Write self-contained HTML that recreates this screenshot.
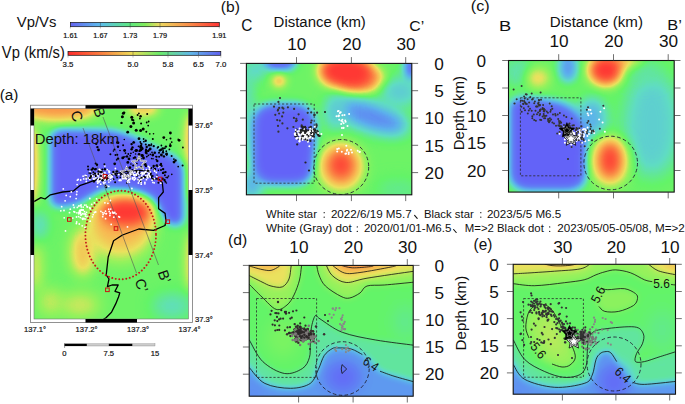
<!DOCTYPE html>
<html><head><meta charset="utf-8"><title>figure</title>
<style>html,body{margin:0;padding:0;background:#fff;width:685px;height:404px;overflow:hidden}svg{display:block}</style>
</head><body><svg width="685" height="404" viewBox="0 0 685 404" font-family='"Liberation Sans", sans-serif'><defs><filter id="g1" x="-100%" y="-100%" width="300%" height="300%" color-interpolation-filters="sRGB"><feGaussianBlur stdDeviation="1"/></filter><filter id="g2" x="-100%" y="-100%" width="300%" height="300%" color-interpolation-filters="sRGB"><feGaussianBlur stdDeviation="2"/></filter><filter id="g3" x="-100%" y="-100%" width="300%" height="300%" color-interpolation-filters="sRGB"><feGaussianBlur stdDeviation="3"/></filter><filter id="g4" x="-100%" y="-100%" width="300%" height="300%" color-interpolation-filters="sRGB"><feGaussianBlur stdDeviation="4"/></filter><filter id="g5" x="-100%" y="-100%" width="300%" height="300%" color-interpolation-filters="sRGB"><feGaussianBlur stdDeviation="5"/></filter><filter id="g6" x="-100%" y="-100%" width="300%" height="300%" color-interpolation-filters="sRGB"><feGaussianBlur stdDeviation="6"/></filter><filter id="g7" x="-100%" y="-100%" width="300%" height="300%" color-interpolation-filters="sRGB"><feGaussianBlur stdDeviation="7"/></filter><filter id="g8" x="-100%" y="-100%" width="300%" height="300%" color-interpolation-filters="sRGB"><feGaussianBlur stdDeviation="8"/></filter><filter id="g9" x="-100%" y="-100%" width="300%" height="300%" color-interpolation-filters="sRGB"><feGaussianBlur stdDeviation="9"/></filter><filter id="g10" x="-100%" y="-100%" width="300%" height="300%" color-interpolation-filters="sRGB"><feGaussianBlur stdDeviation="10"/></filter><filter id="g11" x="-100%" y="-100%" width="300%" height="300%" color-interpolation-filters="sRGB"><feGaussianBlur stdDeviation="11"/></filter><filter id="g12" x="-100%" y="-100%" width="300%" height="300%" color-interpolation-filters="sRGB"><feGaussianBlur stdDeviation="12"/></filter><filter id="g13" x="-100%" y="-100%" width="300%" height="300%" color-interpolation-filters="sRGB"><feGaussianBlur stdDeviation="13"/></filter><filter id="g14" x="-100%" y="-100%" width="300%" height="300%" color-interpolation-filters="sRGB"><feGaussianBlur stdDeviation="14"/></filter><filter id="g15" x="-100%" y="-100%" width="300%" height="300%" color-interpolation-filters="sRGB"><feGaussianBlur stdDeviation="15"/></filter><filter id="g16" x="-100%" y="-100%" width="300%" height="300%" color-interpolation-filters="sRGB"><feGaussianBlur stdDeviation="16"/></filter><filter id="g17" x="-100%" y="-100%" width="300%" height="300%" color-interpolation-filters="sRGB"><feGaussianBlur stdDeviation="17"/></filter><filter id="g18" x="-100%" y="-100%" width="300%" height="300%" color-interpolation-filters="sRGB"><feGaussianBlur stdDeviation="18"/></filter><filter id="g19" x="-100%" y="-100%" width="300%" height="300%" color-interpolation-filters="sRGB"><feGaussianBlur stdDeviation="19"/></filter><filter id="g20" x="-100%" y="-100%" width="300%" height="300%" color-interpolation-filters="sRGB"><feGaussianBlur stdDeviation="20"/></filter><filter id="cm1" x="0" y="0" width="685" height="404" filterUnits="userSpaceOnUse" color-interpolation-filters="sRGB"><feComponentTransfer><feFuncR type="table" tableValues="0.392 0.376 0.361 0.376 0.392 0.588 0.918 0.973 0.980 0.992 1.000"/><feFuncG type="table" tableValues="0.392 0.510 0.698 0.863 0.957 0.949 0.886 0.722 0.549 0.376 0.220"/><feFuncB type="table" tableValues="0.973 0.957 0.925 0.769 0.408 0.361 0.369 0.322 0.275 0.235 0.204"/></feComponentTransfer></filter>
<linearGradient id="cb1" x1="0" x2="1" y1="0" y2="0">
 <stop offset="0" stop-color="#6464f0"/><stop offset="0.2" stop-color="#5cbcec"/><stop offset="0.4" stop-color="#5ce880"/>
 <stop offset="0.5" stop-color="#80ec5c"/><stop offset="0.6" stop-color="#ecd860"/><stop offset="0.8" stop-color="#fa8c48"/><stop offset="1" stop-color="#ff3434"/>
</linearGradient>
<linearGradient id="cb2" x1="0" x2="1" y1="0" y2="0">
 <stop offset="0" stop-color="#ff2c2c"/><stop offset="0.22" stop-color="#fb8040"/><stop offset="0.42" stop-color="#eedc58"/>
 <stop offset="0.6" stop-color="#6aec6a"/><stop offset="0.8" stop-color="#60b8e8"/><stop offset="1" stop-color="#6060f0"/>
</linearGradient>
<clipPath id="ca"><rect x="34" y="108.5" width="154.5" height="210.5"/></clipPath>
<clipPath id="cbp"><rect x="246.4" y="63.4" width="165.4" height="131.4"/></clipPath>
<clipPath id="ccp"><rect x="508.5" y="60.5" width="165.7" height="131.6"/></clipPath>
<clipPath id="cdp"><rect x="249.2" y="265.4" width="164" height="130.8"/></clipPath>
<clipPath id="cep"><rect x="513.2" y="264.3" width="162.3" height="130"/></clipPath>
</defs><rect width="685" height="404" fill="#fff"/><text x="16.85" y="27.40" font-size="15.14" textLength="39.51" lengthAdjust="spacingAndGlyphs" fill="#111">Vp/Vs</text><rect x="70.4" y="22.4" width="148.9" height="4.3" fill="url(#cb1)" stroke="#111" stroke-width="0.7"/><line x1="100.4" y1="22.4" x2="100.4" y2="26.7" stroke="#333" stroke-width="0.4"/><line x1="100.4" y1="26.7" x2="100.4" y2="28.5" stroke="#666" stroke-width="0.4"/><line x1="130.2" y1="22.4" x2="130.2" y2="26.7" stroke="#333" stroke-width="0.4"/><line x1="130.2" y1="26.7" x2="130.2" y2="28.5" stroke="#666" stroke-width="0.4"/><line x1="160" y1="22.4" x2="160" y2="26.7" stroke="#333" stroke-width="0.4"/><line x1="160" y1="26.7" x2="160" y2="28.5" stroke="#666" stroke-width="0.4"/><text x="70.4" y="38.4" font-size="7.3" text-anchor="middle" fill="#111" stroke="#111" stroke-width="0.2">1.61</text><text x="100.4" y="38.4" font-size="7.3" text-anchor="middle" fill="#111" stroke="#111" stroke-width="0.2">1.67</text><text x="130.2" y="38.4" font-size="7.3" text-anchor="middle" fill="#111" stroke="#111" stroke-width="0.2">1.73</text><text x="160" y="38.4" font-size="7.3" text-anchor="middle" fill="#111" stroke="#111" stroke-width="0.2">1.79</text><text x="219.3" y="38.4" font-size="7.3" text-anchor="middle" fill="#111" stroke="#111" stroke-width="0.2">1.91</text><text x="1.85" y="57.70" font-size="15.57" textLength="63.00" lengthAdjust="spacingAndGlyphs" fill="#111">Vp (km/s)</text><rect x="68" y="51.5" width="152.8" height="3.8" fill="url(#cb2)" stroke="#111" stroke-width="0.7"/><line x1="133" y1="51.5" x2="133" y2="55.3" stroke="#333" stroke-width="0.4"/><line x1="168" y1="51.5" x2="168" y2="55.3" stroke="#333" stroke-width="0.4"/><line x1="198.5" y1="51.5" x2="198.5" y2="55.3" stroke="#333" stroke-width="0.4"/><text x="68" y="67.2" font-size="7.8" text-anchor="middle" fill="#111" stroke="#111" stroke-width="0.2">3.5</text><line x1="68" y1="55.3" x2="68" y2="57.6" stroke="#666" stroke-width="0.4"/><text x="133" y="67.2" font-size="7.8" text-anchor="middle" fill="#111" stroke="#111" stroke-width="0.2">5.0</text><line x1="133" y1="55.3" x2="133" y2="57.6" stroke="#666" stroke-width="0.4"/><text x="168" y="67.2" font-size="7.8" text-anchor="middle" fill="#111" stroke="#111" stroke-width="0.2">5.8</text><line x1="168" y1="55.3" x2="168" y2="57.6" stroke="#666" stroke-width="0.4"/><text x="198.5" y="67.2" font-size="7.8" text-anchor="middle" fill="#111" stroke="#111" stroke-width="0.2">6.5</text><line x1="198.5" y1="55.3" x2="198.5" y2="57.6" stroke="#666" stroke-width="0.4"/><text x="220.8" y="67.2" font-size="7.8" text-anchor="middle" fill="#111" stroke="#111" stroke-width="0.2">7.0</text><line x1="220.8" y1="55.3" x2="220.8" y2="57.6" stroke="#666" stroke-width="0.4"/><line x1="70.4" y1="26.7" x2="70.4" y2="28.5" stroke="#666" stroke-width="0.4"/><line x1="219.3" y1="26.7" x2="219.3" y2="28.5" stroke="#666" stroke-width="0.4"/><text x="-0.32" y="99.67" font-size="14.89" textLength="18.77" lengthAdjust="spacingAndGlyphs" fill="#111">(a)</text><text x="220.76" y="11.77" font-size="14.89" textLength="19.11" lengthAdjust="spacingAndGlyphs" fill="#111">(b)</text><text x="470.72" y="11.47" font-size="14.89" textLength="18.95" lengthAdjust="spacingAndGlyphs" fill="#111">(c)</text><text x="227.96" y="244.71" font-size="15.21" textLength="19.22" lengthAdjust="spacingAndGlyphs" fill="#111">(d)</text><text x="473.58" y="249.70" font-size="16.17" textLength="18.77" lengthAdjust="spacingAndGlyphs" fill="#111">(e)</text><g clip-path="url(#ca)"><g filter="url(#cm1)"><rect x="25" y="95" width="175" height="235" fill="rgb(107,107,107)"/><ellipse cx="58" cy="108" rx="40" ry="12" fill="rgb(199,199,199)" filter="url(#g6)"/><ellipse cx="143" cy="109" rx="16" ry="7" fill="rgb(173,173,173)" filter="url(#g5)"/><ellipse cx="33" cy="165" rx="5" ry="40" fill="rgb(184,184,184)" filter="url(#g4)"/><ellipse cx="191" cy="140" rx="6" ry="28" fill="rgb(184,184,184)" filter="url(#g5)"/><ellipse cx="191" cy="180" rx="5" ry="20" fill="rgb(158,158,158)" filter="url(#g4)"/><ellipse cx="191" cy="262" rx="6" ry="30" fill="rgb(163,163,163)" filter="url(#g5)"/><ellipse cx="83" cy="252" rx="12" ry="24" fill="rgb(173,173,173)" filter="url(#g7)"/><ellipse cx="36" cy="268" rx="6" ry="24" fill="rgb(153,153,153)" filter="url(#g6)"/><ellipse cx="50" cy="302" rx="12" ry="14" fill="rgb(143,143,143)" filter="url(#g7)"/><ellipse cx="80" cy="305" rx="20" ry="12" fill="rgb(148,148,148)" filter="url(#g8)"/><ellipse cx="172" cy="306" rx="20" ry="12" fill="rgb(76,76,76)" filter="url(#g8)"/><ellipse cx="40" cy="225" rx="8" ry="14" fill="rgb(76,76,76)" filter="url(#g6)"/><path d="M51,140 Q51,130 63,130 L112,131 Q135,136 152,147 Q172,155 180,162 Q183,166 183,174 L183,220 Q180,227 171,224 Q162,219 158,205 Q150,192 130,190 L106,188 Q92,194 82,201 Q70,207 57,206 Q51,205 51,198 Z" fill="rgb(0,0,0)" filter="url(#g4)"/><ellipse cx="120" cy="236" rx="30" ry="24" fill="rgb(163,163,163)" filter="url(#g9)"/><ellipse cx="122" cy="220" rx="32" ry="22" fill="rgb(184,184,184)" filter="url(#g8)"/><ellipse cx="126" cy="212" rx="24" ry="13" fill="rgb(255,255,255)" filter="url(#g6)"/></g></g><g clip-path="url(#ca)"><polyline points="34,201.6 40.9,197.6 45,199 50.4,194.8 62.7,192 73.6,190.8 80.4,185.3 88.5,182.6 95.3,179.9 104.9,176.3 114.4,174.4 125.3,171.7 138.9,170.3 149.8,171.5 152,178.5 158.6,179 162.3,182.7 163.3,192 158.6,197.6 158.6,208.7 165.1,213.4 166,220.8 165,225.5 153.6,230.4 138.8,229 122.5,235 113.6,240.8 108.2,257 106.2,275 109,279 107.4,286.7 112,285 118.2,285 115,291.3 119.8,292.9 118.5,297 115.7,303.9 111.5,312.2 106,317.7 103.2,319.5" fill="none" stroke="#000" stroke-width="1.3" stroke-linejoin="round"/><line x1="83" y1="128" x2="136.5" y2="273" stroke="#555" stroke-width="0.6"/><line x1="103" y1="117" x2="158.5" y2="265" stroke="#555" stroke-width="0.6"/><ellipse cx="120.7" cy="235" rx="35.3" ry="44.3" fill="none" stroke="#c41a1a" stroke-width="1.9" stroke-dasharray="0.01 3.55" stroke-linecap="round"/></g><g clip-path="url(#ca)"><circle cx="116.0" cy="171.4" r="0.9" fill="#fff"/><circle cx="86.3" cy="177.7" r="0.9" fill="#fff"/><circle cx="77.1" cy="184.6" r="0.9" fill="#fff"/><circle cx="105.8" cy="175.4" r="0.9" fill="#fff"/><circle cx="104.7" cy="176.0" r="0.9" fill="#fff"/><circle cx="110.6" cy="180.6" r="0.9" fill="#fff"/><circle cx="97.3" cy="181.7" r="0.9" fill="#fff"/><circle cx="98.5" cy="176.1" r="0.9" fill="#fff"/><circle cx="99.8" cy="173.8" r="0.9" fill="#fff"/><circle cx="93.3" cy="178.5" r="0.9" fill="#fff"/><circle cx="99.3" cy="170.4" r="0.9" fill="#fff"/><circle cx="99.1" cy="178.8" r="0.9" fill="#fff"/><circle cx="97.5" cy="180.9" r="0.9" fill="#fff"/><circle cx="104.1" cy="178.1" r="0.9" fill="#fff"/><circle cx="101.0" cy="170.8" r="0.9" fill="#fff"/><circle cx="122.1" cy="175.4" r="0.9" fill="#fff"/><circle cx="105.5" cy="174.3" r="0.9" fill="#fff"/><circle cx="103.7" cy="179.9" r="0.9" fill="#fff"/><circle cx="90.5" cy="178.1" r="0.9" fill="#fff"/><circle cx="92.7" cy="176.0" r="0.9" fill="#fff"/><circle cx="103.9" cy="174.4" r="0.9" fill="#fff"/><circle cx="83.7" cy="178.9" r="0.9" fill="#fff"/><circle cx="102.4" cy="173.9" r="0.9" fill="#fff"/><circle cx="100.7" cy="184.2" r="0.9" fill="#fff"/><circle cx="104.2" cy="177.1" r="0.9" fill="#fff"/><circle cx="90.3" cy="176.0" r="0.9" fill="#fff"/><circle cx="101.3" cy="178.1" r="0.9" fill="#fff"/><circle cx="103.9" cy="183.6" r="0.9" fill="#fff"/><circle cx="78.2" cy="179.4" r="0.9" fill="#fff"/><circle cx="104.9" cy="166.1" r="0.9" fill="#fff"/><circle cx="105.0" cy="177.6" r="0.9" fill="#fff"/><circle cx="108.5" cy="177.4" r="0.9" fill="#fff"/><circle cx="98.6" cy="178.1" r="0.9" fill="#fff"/><circle cx="96.6" cy="176.5" r="0.9" fill="#fff"/><circle cx="97.7" cy="179.8" r="0.9" fill="#fff"/><circle cx="102.7" cy="173.1" r="0.9" fill="#fff"/><circle cx="99.8" cy="178.2" r="0.9" fill="#fff"/><circle cx="89.8" cy="179.4" r="0.9" fill="#fff"/><circle cx="92.0" cy="169.1" r="0.9" fill="#fff"/><circle cx="102.2" cy="174.2" r="0.9" fill="#fff"/><circle cx="108.9" cy="182.1" r="0.9" fill="#fff"/><circle cx="102.3" cy="172.4" r="0.9" fill="#fff"/><circle cx="104.9" cy="172.6" r="0.9" fill="#fff"/><circle cx="99.1" cy="179.4" r="0.9" fill="#fff"/><circle cx="111.4" cy="177.6" r="0.9" fill="#fff"/><circle cx="113.9" cy="171.8" r="0.9" fill="#fff"/><circle cx="88.4" cy="178.2" r="0.9" fill="#fff"/><circle cx="113.2" cy="173.8" r="0.9" fill="#fff"/><circle cx="93.4" cy="174.5" r="0.9" fill="#fff"/><circle cx="95.1" cy="176.7" r="0.9" fill="#fff"/><circle cx="105.0" cy="182.5" r="0.9" fill="#fff"/><circle cx="110.1" cy="176.8" r="0.9" fill="#fff"/><circle cx="93.8" cy="179.0" r="0.9" fill="#fff"/><circle cx="86.2" cy="179.0" r="0.9" fill="#fff"/><circle cx="80.7" cy="180.0" r="0.9" fill="#fff"/><circle cx="103.9" cy="179.9" r="0.9" fill="#fff"/><circle cx="91.8" cy="176.4" r="0.9" fill="#fff"/><circle cx="108.9" cy="171.0" r="0.9" fill="#fff"/><circle cx="110.0" cy="174.7" r="0.9" fill="#fff"/><circle cx="110.3" cy="178.0" r="0.9" fill="#fff"/><circle cx="91.2" cy="175.6" r="0.9" fill="#fff"/><circle cx="97.7" cy="183.2" r="0.9" fill="#fff"/><circle cx="103.2" cy="176.0" r="0.9" fill="#fff"/><circle cx="96.2" cy="173.6" r="0.9" fill="#fff"/><circle cx="83.1" cy="176.2" r="0.9" fill="#fff"/><circle cx="111.1" cy="175.6" r="0.9" fill="#fff"/><circle cx="106.1" cy="185.5" r="0.9" fill="#fff"/><circle cx="103.3" cy="180.6" r="0.9" fill="#fff"/><circle cx="103.3" cy="173.9" r="0.9" fill="#fff"/><circle cx="97.4" cy="186.7" r="0.9" fill="#fff"/><circle cx="106.6" cy="175.8" r="0.9" fill="#fff"/><circle cx="94.9" cy="179.0" r="0.9" fill="#fff"/><circle cx="104.1" cy="179.2" r="0.9" fill="#fff"/><circle cx="103.2" cy="176.8" r="0.9" fill="#fff"/><circle cx="100.7" cy="179.7" r="0.9" fill="#fff"/><circle cx="108.6" cy="179.3" r="0.9" fill="#fff"/><circle cx="99.3" cy="169.4" r="0.9" fill="#fff"/><circle cx="90.0" cy="171.6" r="0.9" fill="#fff"/><circle cx="106.5" cy="177.1" r="0.9" fill="#fff"/><circle cx="102.9" cy="176.6" r="0.9" fill="#fff"/><circle cx="99.0" cy="181.6" r="0.9" fill="#fff"/><circle cx="98.9" cy="182.0" r="0.9" fill="#fff"/><circle cx="105.6" cy="177.9" r="0.9" fill="#fff"/><circle cx="104.3" cy="176.4" r="0.9" fill="#fff"/><circle cx="104.2" cy="175.6" r="0.9" fill="#fff"/><circle cx="112.0" cy="176.7" r="0.9" fill="#fff"/><circle cx="97.3" cy="175.2" r="0.9" fill="#fff"/><circle cx="112.7" cy="179.3" r="0.9" fill="#fff"/><circle cx="102.3" cy="179.3" r="0.9" fill="#fff"/><circle cx="107.2" cy="169.7" r="0.9" fill="#fff"/><circle cx="119.4" cy="180.1" r="0.9" fill="#fff"/><circle cx="92.3" cy="176.2" r="0.9" fill="#fff"/><circle cx="106.2" cy="179.5" r="0.9" fill="#fff"/><circle cx="106.5" cy="176.7" r="0.9" fill="#fff"/><circle cx="103.0" cy="178.6" r="0.9" fill="#fff"/><circle cx="105.2" cy="179.7" r="0.9" fill="#fff"/><circle cx="102.8" cy="176.2" r="0.9" fill="#fff"/><circle cx="106.8" cy="185.8" r="0.9" fill="#fff"/><circle cx="122.4" cy="176.8" r="0.9" fill="#fff"/><circle cx="100.2" cy="180.7" r="0.9" fill="#fff"/><circle cx="108.8" cy="175.6" r="0.9" fill="#fff"/><circle cx="98.0" cy="173.7" r="0.9" fill="#fff"/><circle cx="107.3" cy="177.5" r="0.9" fill="#fff"/><circle cx="99.8" cy="170.0" r="0.9" fill="#fff"/><circle cx="91.9" cy="175.1" r="0.9" fill="#fff"/><circle cx="91.6" cy="176.0" r="0.9" fill="#fff"/><circle cx="85.2" cy="175.4" r="0.9" fill="#fff"/><circle cx="103.3" cy="182.1" r="0.9" fill="#fff"/><circle cx="114.2" cy="173.8" r="0.9" fill="#fff"/><circle cx="108.8" cy="186.3" r="0.9" fill="#fff"/><circle cx="102.6" cy="175.0" r="0.9" fill="#fff"/><circle cx="99.5" cy="179.7" r="0.9" fill="#fff"/><circle cx="120.9" cy="180.6" r="0.9" fill="#fff"/><circle cx="86.3" cy="181.4" r="0.9" fill="#fff"/><circle cx="101.0" cy="177.4" r="0.9" fill="#fff"/><circle cx="109.7" cy="171.8" r="0.9" fill="#fff"/><circle cx="112.2" cy="176.7" r="0.9" fill="#fff"/><circle cx="86.5" cy="175.9" r="0.9" fill="#fff"/><circle cx="108.3" cy="179.7" r="0.9" fill="#fff"/><circle cx="95.8" cy="177.8" r="0.9" fill="#fff"/><circle cx="130.9" cy="173.7" r="0.9" fill="#fff"/><circle cx="128.3" cy="175.8" r="0.9" fill="#fff"/><circle cx="134.1" cy="179.9" r="0.9" fill="#fff"/><circle cx="115.4" cy="168.5" r="0.9" fill="#fff"/><circle cx="156.3" cy="172.5" r="0.9" fill="#fff"/><circle cx="142.2" cy="172.8" r="0.9" fill="#fff"/><circle cx="145.8" cy="175.5" r="0.9" fill="#fff"/><circle cx="146.4" cy="179.7" r="0.9" fill="#fff"/><circle cx="137.0" cy="171.9" r="0.9" fill="#fff"/><circle cx="133.0" cy="173.1" r="0.9" fill="#fff"/><circle cx="148.7" cy="175.0" r="0.9" fill="#fff"/><circle cx="125.8" cy="176.8" r="0.9" fill="#fff"/><circle cx="158.7" cy="166.7" r="0.9" fill="#fff"/><circle cx="127.4" cy="175.1" r="0.9" fill="#fff"/><circle cx="135.2" cy="174.8" r="0.9" fill="#fff"/><circle cx="120.7" cy="179.9" r="0.9" fill="#fff"/><circle cx="138.6" cy="174.4" r="0.9" fill="#fff"/><circle cx="144.0" cy="172.5" r="0.9" fill="#fff"/><circle cx="147.5" cy="175.5" r="0.9" fill="#fff"/><circle cx="140.8" cy="181.5" r="0.9" fill="#fff"/><circle cx="145.9" cy="172.8" r="0.9" fill="#fff"/><circle cx="148.6" cy="170.8" r="0.9" fill="#fff"/><circle cx="132.5" cy="178.9" r="0.9" fill="#fff"/><circle cx="127.9" cy="175.8" r="0.9" fill="#fff"/><circle cx="127.9" cy="180.7" r="0.9" fill="#fff"/><circle cx="147.4" cy="171.8" r="0.9" fill="#fff"/><circle cx="142.3" cy="178.5" r="0.9" fill="#fff"/><circle cx="128.5" cy="180.5" r="0.9" fill="#fff"/><circle cx="140.6" cy="177.4" r="0.9" fill="#fff"/><circle cx="134.5" cy="179.3" r="0.9" fill="#fff"/><circle cx="121.5" cy="122.9" r="1.2" fill="#000"/><circle cx="148.6" cy="121.5" r="0.9" fill="#000"/><circle cx="136.2" cy="130.2" r="1.5" fill="#000"/><circle cx="122.4" cy="116.7" r="1.5" fill="#000"/><circle cx="133.6" cy="123.0" r="1.5" fill="#000"/><circle cx="137.6" cy="115.0" r="1.0" fill="#000"/><circle cx="146.7" cy="122.5" r="0.9" fill="#000"/><circle cx="138.9" cy="113.3" r="0.9" fill="#000"/><circle cx="124.1" cy="112.6" r="1.2" fill="#000"/><circle cx="130.9" cy="126.4" r="1.5" fill="#000"/><circle cx="140.6" cy="130.4" r="1.5" fill="#000"/><circle cx="141.1" cy="123.5" r="1.0" fill="#000"/><circle cx="147.2" cy="113.9" r="1.0" fill="#000"/><circle cx="131.8" cy="117.2" r="1.5" fill="#000"/><circle cx="143.2" cy="129.1" r="1.5" fill="#000"/><circle cx="132.3" cy="119.7" r="1.2" fill="#000"/><circle cx="133.4" cy="120.2" r="1.0" fill="#000"/><circle cx="148.2" cy="125.6" r="0.9" fill="#000"/><circle cx="146.3" cy="131.8" r="1.0" fill="#000"/><circle cx="139.9" cy="118.5" r="0.9" fill="#000"/><circle cx="140.6" cy="116.2" r="1.2" fill="#000"/><circle cx="123.4" cy="113.3" r="1.5" fill="#000"/><circle cx="175.5" cy="160.5" r="1.2" fill="#000"/><circle cx="148.2" cy="150.9" r="1.2" fill="#000"/><circle cx="149.8" cy="133.9" r="0.8" fill="#000"/><circle cx="118.2" cy="142.7" r="1.2" fill="#000"/><circle cx="141.5" cy="144.1" r="1.0" fill="#000"/><circle cx="142.1" cy="155.4" r="1.4" fill="#000"/><circle cx="97.4" cy="147.1" r="1.2" fill="#000"/><circle cx="141.0" cy="158.8" r="0.8" fill="#000"/><circle cx="163.1" cy="151.0" r="1.0" fill="#000"/><circle cx="129.0" cy="158.9" r="1.4" fill="#000"/><circle cx="114.7" cy="163.8" r="1.4" fill="#000"/><circle cx="151.0" cy="145.4" r="0.9" fill="#000"/><circle cx="164.8" cy="148.2" r="1.0" fill="#000"/><circle cx="120.0" cy="150.5" r="0.8" fill="#000"/><circle cx="137.3" cy="160.0" r="1.4" fill="#000"/><circle cx="140.3" cy="149.7" r="1.0" fill="#000"/><circle cx="115.5" cy="154.9" r="1.0" fill="#000"/><circle cx="132.5" cy="147.4" r="1.2" fill="#000"/><circle cx="152.0" cy="152.4" r="0.8" fill="#000"/><circle cx="159.8" cy="150.4" r="1.2" fill="#000"/><circle cx="136.8" cy="163.6" r="0.9" fill="#000"/><circle cx="133.6" cy="157.9" r="1.0" fill="#000"/><circle cx="153.7" cy="146.1" r="1.2" fill="#000"/><circle cx="174.0" cy="162.1" r="1.4" fill="#000"/><circle cx="140.7" cy="147.6" r="1.4" fill="#000"/><circle cx="151.2" cy="168.0" r="0.9" fill="#000"/><circle cx="130.9" cy="164.0" r="0.8" fill="#000"/><circle cx="159.1" cy="156.7" r="1.0" fill="#000"/><circle cx="138.5" cy="146.3" r="0.9" fill="#000"/><circle cx="173.9" cy="159.1" r="0.9" fill="#000"/><circle cx="161.4" cy="145.5" r="0.9" fill="#000"/><circle cx="146.2" cy="149.7" r="0.9" fill="#000"/><circle cx="129.9" cy="167.7" r="1.4" fill="#000"/><circle cx="151.6" cy="158.6" r="0.8" fill="#000"/><circle cx="151.4" cy="144.2" r="0.9" fill="#000"/><circle cx="123.7" cy="157.2" r="1.0" fill="#000"/><circle cx="117.3" cy="154.8" r="1.0" fill="#000"/><circle cx="127.0" cy="156.5" r="1.2" fill="#000"/><circle cx="146.1" cy="152.7" r="1.4" fill="#000"/><circle cx="166.3" cy="151.2" r="0.9" fill="#000"/><circle cx="166.6" cy="154.0" r="1.4" fill="#000"/><circle cx="169.4" cy="149.4" r="0.9" fill="#000"/><circle cx="170.5" cy="138.4" r="1.0" fill="#000"/><circle cx="155.9" cy="156.6" r="0.8" fill="#000"/><circle cx="170.3" cy="144.1" r="0.9" fill="#000"/><circle cx="179.1" cy="140.3" r="1.4" fill="#000"/><circle cx="166.8" cy="155.1" r="0.8" fill="#000"/><circle cx="153.0" cy="158.7" r="0.8" fill="#000"/><circle cx="124.6" cy="150.5" r="1.4" fill="#000"/><circle cx="152.8" cy="155.0" r="1.4" fill="#000"/><circle cx="110.4" cy="154.2" r="1.0" fill="#000"/><circle cx="146.9" cy="156.5" r="0.8" fill="#000"/><circle cx="161.8" cy="166.0" r="0.9" fill="#000"/><circle cx="146.1" cy="151.0" r="1.4" fill="#000"/><circle cx="149.2" cy="149.8" r="1.0" fill="#000"/><circle cx="145.3" cy="164.5" r="1.4" fill="#000"/><circle cx="125.0" cy="156.7" r="0.8" fill="#000"/><circle cx="166.5" cy="139.8" r="0.8" fill="#000"/><circle cx="150.3" cy="154.4" r="0.8" fill="#000"/><circle cx="150.2" cy="149.0" r="1.4" fill="#000"/><circle cx="133.3" cy="152.3" r="0.8" fill="#000"/><circle cx="127.8" cy="162.4" r="1.4" fill="#000"/><circle cx="139.8" cy="158.7" r="1.0" fill="#000"/><circle cx="135.6" cy="154.0" r="0.8" fill="#000"/><circle cx="140.9" cy="143.4" r="0.8" fill="#000"/><circle cx="139.6" cy="150.9" r="1.2" fill="#000"/><circle cx="117.3" cy="142.4" r="1.2" fill="#000"/><circle cx="141.1" cy="150.0" r="1.2" fill="#000"/><circle cx="171.6" cy="156.1" r="1.0" fill="#000"/><circle cx="118.0" cy="158.6" r="1.2" fill="#000"/><circle cx="159.0" cy="152.7" r="1.0" fill="#000"/><circle cx="142.4" cy="148.7" r="1.2" fill="#000"/><circle cx="146.7" cy="156.7" r="0.8" fill="#000"/><circle cx="162.8" cy="148.6" r="1.4" fill="#000"/><circle cx="149.0" cy="145.2" r="1.2" fill="#000"/><circle cx="127.7" cy="132.2" r="1.4" fill="#000"/><circle cx="152.8" cy="139.1" r="1.0" fill="#000"/><circle cx="136.4" cy="150.4" r="1.4" fill="#000"/><circle cx="140.3" cy="142.0" r="0.9" fill="#000"/><circle cx="145.9" cy="149.3" r="0.8" fill="#000"/><circle cx="118.0" cy="146.8" r="1.2" fill="#000"/><circle cx="146.9" cy="153.8" r="0.8" fill="#000"/><circle cx="154.8" cy="152.7" r="1.2" fill="#000"/><circle cx="170.4" cy="133.0" r="1.4" fill="#000"/><circle cx="142.4" cy="155.7" r="1.4" fill="#000"/><circle cx="113.4" cy="151.0" r="0.8" fill="#000"/><circle cx="136.4" cy="150.6" r="1.4" fill="#000"/><circle cx="161.4" cy="155.0" r="1.4" fill="#000"/><circle cx="148.4" cy="155.3" r="0.9" fill="#000"/><circle cx="131.6" cy="144.1" r="1.2" fill="#000"/><circle cx="144.5" cy="164.2" r="1.0" fill="#000"/><circle cx="96.2" cy="143.8" r="1.2" fill="#000"/><circle cx="116.7" cy="159.8" r="0.9" fill="#000"/><circle cx="122.7" cy="157.9" r="1.4" fill="#000"/><circle cx="133.9" cy="142.4" r="1.2" fill="#000"/><circle cx="156.3" cy="159.6" r="0.9" fill="#000"/><circle cx="157.3" cy="161.0" r="1.2" fill="#000"/><circle cx="165.9" cy="146.6" r="1.2" fill="#000"/><circle cx="111.2" cy="142.8" r="0.9" fill="#000"/><circle cx="143.5" cy="158.0" r="1.4" fill="#000"/><circle cx="98.5" cy="149.9" r="1.4" fill="#000"/><circle cx="161.0" cy="149.8" r="1.2" fill="#000"/><circle cx="123.1" cy="145.3" r="1.0" fill="#000"/><circle cx="158.2" cy="147.1" r="1.0" fill="#000"/><circle cx="125.5" cy="153.1" r="0.9" fill="#000"/><circle cx="131.6" cy="149.2" r="1.2" fill="#000"/><circle cx="146.7" cy="147.0" r="1.2" fill="#000"/><circle cx="140.9" cy="146.2" r="1.4" fill="#000"/><circle cx="163.8" cy="137.6" r="1.4" fill="#000"/><circle cx="153.5" cy="133.8" r="0.8" fill="#000"/><circle cx="130.9" cy="153.3" r="0.9" fill="#000"/><circle cx="124.3" cy="139.5" r="0.8" fill="#000"/><circle cx="182.9" cy="147.5" r="0.9" fill="#000"/><circle cx="171.7" cy="142.1" r="0.9" fill="#000"/><circle cx="157.0" cy="165.0" r="0.8" fill="#000"/><circle cx="157.4" cy="147.9" r="0.8" fill="#000"/><circle cx="136.9" cy="160.7" r="0.8" fill="#000"/><circle cx="156.6" cy="156.8" r="1.0" fill="#000"/><circle cx="166.4" cy="154.2" r="1.0" fill="#000"/><circle cx="163.0" cy="152.4" r="1.2" fill="#000"/><circle cx="139.1" cy="154.5" r="1.4" fill="#000"/><circle cx="143.9" cy="141.6" r="0.9" fill="#000"/><circle cx="135.3" cy="150.8" r="1.0" fill="#000"/><circle cx="163.9" cy="156.4" r="1.2" fill="#000"/><circle cx="178.2" cy="139.2" r="0.8" fill="#000"/><circle cx="114.4" cy="149.6" r="1.0" fill="#000"/><circle cx="145.8" cy="144.5" r="1.0" fill="#000"/><circle cx="182.6" cy="165.5" r="1.0" fill="#000"/><circle cx="133.4" cy="142.1" r="0.8" fill="#000"/><circle cx="133.1" cy="142.7" r="0.8" fill="#000"/><circle cx="139.0" cy="138.7" r="1.4" fill="#000"/><circle cx="143.6" cy="139.0" r="0.9" fill="#000"/><circle cx="163.1" cy="169.1" r="1.2" fill="#000"/><circle cx="178.2" cy="166.6" r="0.9" fill="#000"/><circle cx="170.3" cy="145.8" r="1.4" fill="#000"/><circle cx="130.2" cy="155.7" r="0.9" fill="#000"/><circle cx="128.3" cy="154.0" r="0.9" fill="#000"/><circle cx="142.4" cy="147.9" r="0.9" fill="#000"/><circle cx="145.7" cy="140.7" r="1.2" fill="#000"/><circle cx="135.0" cy="157.5" r="1.2" fill="#000"/><circle cx="90.6" cy="177.7" r="1.0" fill="#000"/><circle cx="107.3" cy="178.3" r="1.2" fill="#000"/><circle cx="116.5" cy="171.5" r="1.2" fill="#000"/><circle cx="155.6" cy="178.4" r="0.8" fill="#000"/><circle cx="116.3" cy="175.4" r="1.0" fill="#000"/><circle cx="136.8" cy="172.0" r="1.2" fill="#000"/><circle cx="95.7" cy="175.5" r="0.8" fill="#000"/><circle cx="146.0" cy="166.1" r="1.2" fill="#000"/><circle cx="121.8" cy="173.6" r="1.2" fill="#000"/><circle cx="97.0" cy="164.8" r="1.2" fill="#000"/><circle cx="98.6" cy="171.4" r="1.2" fill="#000"/><circle cx="100.6" cy="176.0" r="0.8" fill="#000"/><circle cx="103.4" cy="174.0" r="0.8" fill="#000"/><circle cx="158.4" cy="182.7" r="1.0" fill="#000"/><circle cx="162.6" cy="178.7" r="1.2" fill="#000"/><circle cx="163.9" cy="172.5" r="1.0" fill="#000"/><circle cx="140.5" cy="181.5" r="1.0" fill="#000"/><circle cx="163.0" cy="172.9" r="1.2" fill="#000"/><circle cx="127.6" cy="167.5" r="0.8" fill="#000"/><circle cx="95.2" cy="169.2" r="1.2" fill="#000"/><circle cx="106.1" cy="177.3" r="0.8" fill="#000"/><circle cx="102.6" cy="180.2" r="1.2" fill="#000"/><circle cx="104.2" cy="178.4" r="1.0" fill="#000"/><circle cx="95.6" cy="163.5" r="1.0" fill="#000"/><circle cx="168.5" cy="176.1" r="0.8" fill="#000"/><circle cx="139.6" cy="172.3" r="0.8" fill="#000"/><circle cx="88.2" cy="169.6" r="1.0" fill="#000"/><circle cx="132.3" cy="170.0" r="1.0" fill="#000"/><circle cx="113.8" cy="179.3" r="0.8" fill="#000"/><circle cx="92.9" cy="168.4" r="1.2" fill="#000"/><circle cx="152.7" cy="176.0" r="1.0" fill="#000"/><circle cx="171.8" cy="174.4" r="0.8" fill="#000"/><circle cx="166.1" cy="177.5" r="0.8" fill="#000"/><circle cx="127.7" cy="169.9" r="0.8" fill="#000"/><circle cx="153.7" cy="165.9" r="1.2" fill="#000"/><circle cx="99.8" cy="179.3" r="1.0" fill="#000"/><circle cx="126.7" cy="182.9" r="0.8" fill="#000"/><circle cx="141.8" cy="178.0" r="1.0" fill="#000"/><circle cx="88.0" cy="166.6" r="1.0" fill="#000"/><circle cx="101.5" cy="176.0" r="0.8" fill="#000"/><circle cx="147.9" cy="170.8" r="1.2" fill="#000"/><circle cx="117.1" cy="177.6" r="1.0" fill="#000"/><circle cx="105.3" cy="177.4" r="1.0" fill="#000"/><circle cx="98.3" cy="174.1" r="1.0" fill="#000"/><circle cx="131.9" cy="174.6" r="1.2" fill="#000"/><circle cx="120.7" cy="174.9" r="0.8" fill="#000"/><circle cx="140.8" cy="178.4" r="1.0" fill="#000"/><circle cx="128.2" cy="179.3" r="0.8" fill="#000"/><circle cx="158.4" cy="170.4" r="0.8" fill="#000"/><circle cx="146.5" cy="176.5" r="0.8" fill="#000"/><circle cx="106.6" cy="179.7" r="0.8" fill="#000"/><circle cx="106.8" cy="175.4" r="1.0" fill="#000"/><circle cx="126.8" cy="177.6" r="1.0" fill="#000"/><circle cx="164.5" cy="180.0" r="1.2" fill="#000"/><circle cx="90.5" cy="173.4" r="1.0" fill="#000"/><circle cx="153.9" cy="170.0" r="1.0" fill="#000"/><circle cx="128.0" cy="172.9" r="1.0" fill="#000"/><circle cx="140.1" cy="173.5" r="1.0" fill="#000"/><circle cx="113.3" cy="179.0" r="0.8" fill="#000"/><circle cx="136.9" cy="175.9" r="0.8" fill="#000"/><circle cx="95.0" cy="173.6" r="1.2" fill="#000"/><circle cx="89.1" cy="173.1" r="0.8" fill="#000"/><circle cx="102.3" cy="169.5" r="1.0" fill="#000"/><circle cx="115.2" cy="173.7" r="1.0" fill="#000"/><circle cx="164.9" cy="175.2" r="1.0" fill="#000"/><circle cx="150.6" cy="173.5" r="1.2" fill="#000"/><circle cx="167.4" cy="177.5" r="1.0" fill="#000"/><circle cx="95.9" cy="176.2" r="1.0" fill="#000"/><circle cx="133.1" cy="165.5" r="1.0" fill="#000"/><circle cx="101.0" cy="172.0" r="1.2" fill="#000"/><circle cx="160.3" cy="165.1" r="1.0" fill="#000"/><circle cx="165.4" cy="181.7" r="1.0" fill="#000"/><circle cx="154.9" cy="169.0" r="1.2" fill="#000"/><circle cx="127.3" cy="176.0" r="1.0" fill="#000"/><circle cx="156.6" cy="165.6" r="1.2" fill="#000"/><circle cx="145.9" cy="173.6" r="1.0" fill="#000"/><circle cx="89.7" cy="177.9" r="1.0" fill="#000"/><circle cx="93.9" cy="181.4" r="1.2" fill="#000"/><circle cx="144.3" cy="177.0" r="1.2" fill="#000"/><circle cx="90.9" cy="176.1" r="1.2" fill="#000"/><circle cx="161.0" cy="163.9" r="1.2" fill="#000"/><circle cx="141.6" cy="177.3" r="1.0" fill="#000"/><circle cx="86.1" cy="177.0" r="0.8" fill="#000"/><circle cx="115.1" cy="182.3" r="1.0" fill="#000"/><circle cx="95.5" cy="180.3" r="0.8" fill="#000"/><circle cx="145.2" cy="177.5" r="0.8" fill="#000"/><circle cx="166.4" cy="183.0" r="0.8" fill="#000"/><circle cx="105.8" cy="185.4" r="0.8" fill="#000"/><circle cx="104.9" cy="169.2" r="1.2" fill="#000"/><circle cx="113.4" cy="172.0" r="1.2" fill="#000"/><circle cx="153.3" cy="167.2" r="0.8" fill="#000"/><circle cx="157.0" cy="175.4" r="0.8" fill="#000"/><circle cx="137.4" cy="175.5" r="1.0" fill="#000"/><circle cx="93.4" cy="172.2" r="1.0" fill="#000"/><circle cx="120.3" cy="177.4" r="0.8" fill="#000"/><circle cx="141.2" cy="167.3" r="1.2" fill="#000"/><circle cx="161.0" cy="170.1" r="1.0" fill="#000"/><circle cx="152.9" cy="179.6" r="1.0" fill="#000"/><circle cx="157.8" cy="166.4" r="0.8" fill="#000"/><circle cx="96.1" cy="168.9" r="0.8" fill="#000"/><circle cx="125.9" cy="173.7" r="1.0" fill="#000"/><circle cx="102.5" cy="172.0" r="0.8" fill="#000"/><circle cx="165.5" cy="172.1" r="1.2" fill="#000"/><circle cx="91.8" cy="169.6" r="1.2" fill="#000"/><circle cx="104.4" cy="164.2" r="1.0" fill="#000"/><circle cx="106.3" cy="187.3" r="1.0" fill="#000"/><circle cx="93.2" cy="174.6" r="0.8" fill="#000"/><circle cx="148.5" cy="176.9" r="1.2" fill="#000"/><circle cx="138.6" cy="179.6" r="1.0" fill="#000"/><circle cx="117.6" cy="171.4" r="0.8" fill="#000"/><circle cx="150.2" cy="177.0" r="0.9" fill="#fff"/><circle cx="148.9" cy="173.4" r="0.9" fill="#fff"/><circle cx="136.5" cy="167.6" r="0.9" fill="#fff"/><circle cx="149.6" cy="167.5" r="0.9" fill="#fff"/><circle cx="123.9" cy="178.5" r="0.9" fill="#fff"/><circle cx="152.9" cy="182.4" r="0.9" fill="#fff"/><circle cx="129.8" cy="179.5" r="0.9" fill="#fff"/><circle cx="144.3" cy="173.6" r="0.9" fill="#fff"/><circle cx="144.9" cy="183.8" r="0.9" fill="#fff"/><circle cx="134.6" cy="174.9" r="0.9" fill="#fff"/><circle cx="147.2" cy="176.7" r="0.9" fill="#fff"/><circle cx="156.9" cy="176.4" r="0.9" fill="#fff"/><circle cx="141.2" cy="179.3" r="0.9" fill="#fff"/><circle cx="128.8" cy="179.5" r="0.9" fill="#fff"/><circle cx="125.2" cy="178.6" r="0.9" fill="#fff"/><circle cx="132.3" cy="171.9" r="0.9" fill="#fff"/><circle cx="160.8" cy="183.2" r="0.9" fill="#fff"/><circle cx="136.5" cy="174.2" r="0.9" fill="#fff"/><circle cx="122.4" cy="178.7" r="0.9" fill="#fff"/><circle cx="141.7" cy="175.9" r="0.9" fill="#fff"/><circle cx="149.4" cy="176.3" r="0.9" fill="#fff"/><circle cx="119.3" cy="180.5" r="0.9" fill="#fff"/><circle cx="142.1" cy="172.4" r="0.9" fill="#fff"/><circle cx="126.5" cy="178.9" r="0.9" fill="#fff"/><circle cx="143.0" cy="174.0" r="0.9" fill="#fff"/><circle cx="134.7" cy="177.2" r="0.9" fill="#fff"/><circle cx="136.5" cy="175.2" r="0.9" fill="#fff"/><circle cx="149.2" cy="173.8" r="0.9" fill="#fff"/><circle cx="134.2" cy="175.1" r="0.9" fill="#fff"/><circle cx="139.3" cy="181.0" r="0.9" fill="#fff"/><circle cx="145.8" cy="171.6" r="0.9" fill="#fff"/><circle cx="131.9" cy="188.5" r="0.9" fill="#fff"/><circle cx="131.5" cy="171.3" r="0.9" fill="#fff"/><circle cx="140.5" cy="179.6" r="0.9" fill="#fff"/><circle cx="142.3" cy="174.6" r="0.9" fill="#fff"/><circle cx="124.4" cy="174.8" r="0.9" fill="#fff"/><circle cx="127.5" cy="182.1" r="0.9" fill="#fff"/><circle cx="154.7" cy="171.2" r="0.9" fill="#fff"/><circle cx="137.5" cy="173.0" r="0.9" fill="#fff"/><circle cx="147.9" cy="177.8" r="0.9" fill="#fff"/><circle cx="135.5" cy="178.7" r="0.9" fill="#fff"/><circle cx="142.8" cy="173.7" r="0.9" fill="#fff"/><circle cx="148.4" cy="166.5" r="0.9" fill="#fff"/><circle cx="154.2" cy="182.8" r="0.9" fill="#fff"/><circle cx="132.5" cy="177.9" r="0.9" fill="#fff"/><circle cx="139.1" cy="177.1" r="0.9" fill="#fff"/><circle cx="128.2" cy="176.0" r="0.9" fill="#fff"/><circle cx="149.3" cy="169.2" r="0.9" fill="#fff"/><circle cx="147.5" cy="177.6" r="0.9" fill="#fff"/><circle cx="133.2" cy="177.8" r="0.9" fill="#fff"/><circle cx="138.0" cy="179.5" r="0.9" fill="#fff"/><circle cx="134.9" cy="172.1" r="0.9" fill="#fff"/><circle cx="143.4" cy="178.0" r="0.9" fill="#fff"/><circle cx="125.9" cy="178.1" r="0.9" fill="#fff"/><circle cx="138.4" cy="183.0" r="0.9" fill="#fff"/><circle cx="141.2" cy="182.6" r="0.9" fill="#fff"/><circle cx="133.2" cy="174.2" r="0.9" fill="#fff"/><circle cx="138.1" cy="171.5" r="0.9" fill="#fff"/><circle cx="124.9" cy="174.5" r="0.9" fill="#fff"/><circle cx="130.5" cy="172.5" r="0.9" fill="#fff"/><circle cx="154.5" cy="178.7" r="0.9" fill="#fff"/><circle cx="145.4" cy="172.0" r="0.9" fill="#fff"/><circle cx="131.0" cy="174.3" r="0.9" fill="#fff"/><circle cx="150.2" cy="171.9" r="0.9" fill="#fff"/><circle cx="141.2" cy="184.2" r="0.9" fill="#fff"/><circle cx="147.2" cy="175.6" r="0.9" fill="#fff"/><circle cx="149.5" cy="175.9" r="0.9" fill="#fff"/><circle cx="144.9" cy="182.4" r="0.9" fill="#fff"/><circle cx="129.4" cy="182.2" r="0.9" fill="#fff"/><circle cx="133.9" cy="174.9" r="0.9" fill="#fff"/><circle cx="118.8" cy="174.5" r="0.9" fill="#fff"/><circle cx="125.7" cy="176.8" r="0.9" fill="#fff"/><circle cx="145.1" cy="172.3" r="0.9" fill="#fff"/><circle cx="124.8" cy="176.3" r="0.9" fill="#fff"/><circle cx="141.0" cy="173.3" r="0.9" fill="#fff"/><circle cx="152.1" cy="180.2" r="0.9" fill="#fff"/><circle cx="130.0" cy="174.8" r="0.9" fill="#fff"/><circle cx="154.2" cy="170.1" r="0.9" fill="#fff"/><circle cx="109.1" cy="172.5" r="0.9" fill="#fff"/><circle cx="146.5" cy="169.6" r="0.9" fill="#fff"/><circle cx="82.8" cy="213.7" r="0.9" fill="#fff"/><circle cx="80.2" cy="205.7" r="0.9" fill="#fff"/><circle cx="80.3" cy="217.6" r="0.9" fill="#fff"/><circle cx="80.2" cy="211.4" r="0.9" fill="#fff"/><circle cx="81.3" cy="206.9" r="0.9" fill="#fff"/><circle cx="81.6" cy="214.6" r="0.9" fill="#fff"/><circle cx="79.7" cy="211.5" r="0.9" fill="#fff"/><circle cx="82.6" cy="210.0" r="0.9" fill="#fff"/><circle cx="80.9" cy="215.0" r="0.9" fill="#fff"/><circle cx="78.6" cy="216.6" r="0.9" fill="#fff"/><circle cx="84.1" cy="214.0" r="0.9" fill="#fff"/><circle cx="80.3" cy="213.4" r="0.9" fill="#fff"/><circle cx="80.6" cy="212.9" r="0.9" fill="#fff"/><circle cx="87.0" cy="216.7" r="0.9" fill="#fff"/><circle cx="90.1" cy="208.3" r="0.9" fill="#fff"/><circle cx="79.0" cy="212.5" r="0.9" fill="#fff"/><circle cx="85.9" cy="214.6" r="0.9" fill="#fff"/><circle cx="79.3" cy="224.0" r="0.9" fill="#fff"/><circle cx="90.2" cy="221.2" r="0.9" fill="#fff"/><circle cx="78.8" cy="213.8" r="0.9" fill="#fff"/><circle cx="82.2" cy="225.8" r="0.9" fill="#fff"/><circle cx="85.0" cy="219.0" r="0.9" fill="#fff"/><circle cx="80.3" cy="212.8" r="0.9" fill="#fff"/><circle cx="85.0" cy="227.3" r="0.9" fill="#fff"/><circle cx="84.6" cy="205.1" r="0.9" fill="#fff"/><circle cx="84.5" cy="211.7" r="0.9" fill="#fff"/><circle cx="81.1" cy="205.0" r="0.9" fill="#fff"/><circle cx="83.7" cy="218.5" r="0.9" fill="#fff"/><circle cx="86.5" cy="212.3" r="0.9" fill="#fff"/><circle cx="83.2" cy="210.0" r="0.9" fill="#fff"/><circle cx="81.4" cy="209.6" r="0.9" fill="#fff"/><circle cx="79.1" cy="212.7" r="0.9" fill="#fff"/><circle cx="87.5" cy="207.0" r="0.9" fill="#fff"/><circle cx="76.9" cy="212.8" r="0.9" fill="#fff"/><circle cx="76.5" cy="217.0" r="0.9" fill="#fff"/><circle cx="82.8" cy="219.3" r="0.9" fill="#fff"/><circle cx="79.6" cy="210.5" r="0.9" fill="#fff"/><circle cx="85.3" cy="213.9" r="0.9" fill="#fff"/><circle cx="81.2" cy="210.3" r="0.9" fill="#fff"/><circle cx="83.2" cy="207.1" r="0.9" fill="#fff"/><circle cx="96.6" cy="198.8" r="0.9" fill="#fff"/><circle cx="76.6" cy="194.5" r="0.9" fill="#fff"/><circle cx="90.3" cy="208.8" r="0.9" fill="#fff"/><circle cx="77.4" cy="180.2" r="0.9" fill="#fff"/><circle cx="79.7" cy="211.2" r="0.9" fill="#fff"/><circle cx="94.3" cy="202.8" r="0.9" fill="#fff"/><circle cx="61.7" cy="206.7" r="0.9" fill="#fff"/><circle cx="85.4" cy="216.1" r="0.9" fill="#fff"/><circle cx="71.3" cy="191.9" r="0.9" fill="#fff"/><circle cx="80.9" cy="210.1" r="0.9" fill="#fff"/><circle cx="63.3" cy="188.9" r="0.9" fill="#fff"/><circle cx="78.8" cy="206.0" r="0.9" fill="#fff"/><circle cx="93.2" cy="214.6" r="0.9" fill="#fff"/><circle cx="69.5" cy="212.7" r="0.9" fill="#fff"/><circle cx="91.7" cy="204.4" r="0.9" fill="#fff"/><circle cx="76.7" cy="222.0" r="0.9" fill="#fff"/><circle cx="86.1" cy="205.1" r="0.9" fill="#fff"/><circle cx="76.1" cy="198.6" r="0.9" fill="#fff"/><circle cx="89.8" cy="207.7" r="0.9" fill="#fff"/><circle cx="65.5" cy="230.9" r="0.9" fill="#fff"/><circle cx="92.5" cy="216.8" r="0.9" fill="#fff"/><circle cx="64.2" cy="217.8" r="0.9" fill="#fff"/><circle cx="64.0" cy="210.5" r="0.9" fill="#fff"/><circle cx="74.7" cy="212.0" r="0.9" fill="#fff"/><circle cx="60.8" cy="210.8" r="0.9" fill="#fff"/><circle cx="73.9" cy="211.6" r="0.9" fill="#fff"/><circle cx="74.1" cy="207.5" r="0.9" fill="#fff"/><circle cx="72.8" cy="218.1" r="0.9" fill="#fff"/><circle cx="65.1" cy="200.8" r="0.9" fill="#fff"/><circle cx="77.4" cy="207.4" r="0.9" fill="#fff"/><circle cx="87.0" cy="206.7" r="0.9" fill="#fff"/><circle cx="82.3" cy="218.5" r="0.9" fill="#fff"/><circle cx="76.4" cy="223.5" r="0.9" fill="#fff"/><circle cx="66.2" cy="195.4" r="0.9" fill="#fff"/><circle cx="76.9" cy="191.7" r="0.9" fill="#fff"/><circle cx="70.3" cy="209.2" r="0.9" fill="#fff"/><circle cx="94.4" cy="212.5" r="0.9" fill="#fff"/><circle cx="73.4" cy="205.0" r="0.9" fill="#fff"/><circle cx="89.8" cy="198.5" r="0.9" fill="#fff"/><circle cx="70.3" cy="196.7" r="0.9" fill="#fff"/><circle cx="127.5" cy="226.9" r="0.9" fill="#fff"/><circle cx="113.8" cy="217.2" r="0.9" fill="#fff"/><circle cx="114.1" cy="213.0" r="0.9" fill="#fff"/><circle cx="104.1" cy="213.0" r="0.9" fill="#fff"/><circle cx="111.2" cy="224.4" r="0.9" fill="#fff"/><circle cx="110.2" cy="213.4" r="0.9" fill="#fff"/><circle cx="110.4" cy="213.1" r="0.9" fill="#fff"/><circle cx="107.9" cy="203.3" r="0.9" fill="#fff"/><circle cx="112.6" cy="212.1" r="0.9" fill="#fff"/><circle cx="108.7" cy="209.2" r="0.9" fill="#fff"/><circle cx="106.0" cy="213.7" r="0.9" fill="#fff"/><circle cx="109.9" cy="215.5" r="0.9" fill="#fff"/><circle cx="109.2" cy="211.5" r="0.9" fill="#fff"/><circle cx="112.8" cy="212.7" r="0.9" fill="#fff"/><circle cx="114.8" cy="212.3" r="0.9" fill="#fff"/><circle cx="119.6" cy="217.1" r="0.9" fill="#fff"/><circle cx="100.9" cy="211.3" r="0.9" fill="#fff"/><circle cx="102.5" cy="212.6" r="0.9" fill="#fff"/><circle cx="118.8" cy="216.7" r="0.9" fill="#fff"/><circle cx="95.7" cy="212.0" r="0.9" fill="#fff"/><circle cx="113.3" cy="213.1" r="0.9" fill="#fff"/><circle cx="104.9" cy="202.8" r="0.9" fill="#fff"/><circle cx="102.7" cy="216.7" r="0.9" fill="#fff"/><circle cx="105.5" cy="211.2" r="0.9" fill="#fff"/><circle cx="103.1" cy="214.5" r="0.9" fill="#fff"/><circle cx="116.0" cy="213.8" r="0.9" fill="#fff"/><circle cx="110.7" cy="209.1" r="0.9" fill="#fff"/><circle cx="106.4" cy="213.6" r="0.9" fill="#fff"/><circle cx="105.6" cy="218.7" r="0.9" fill="#fff"/><circle cx="110.4" cy="200.5" r="0.9" fill="#fff"/></g><polygon points="126.60,167.00 128.29,170.67 132.31,171.15 129.34,173.89 130.13,177.85 126.60,175.88 123.07,177.85 123.86,173.89 120.89,171.15 124.91,170.67" fill="none" stroke="#fff" stroke-width="1.4" stroke-linejoin="miter"/><polygon points="126.60,167.00 128.29,170.67 132.31,171.15 129.34,173.89 130.13,177.85 126.60,175.88 123.07,177.85 123.86,173.89 120.89,171.15 124.91,170.67" fill="none" stroke="#555" stroke-width="0.5" stroke-linejoin="miter"/><polygon points="139.00,156.50 140.97,160.78 145.66,161.34 142.20,164.54 143.11,169.16 139.00,166.86 134.89,169.16 135.80,164.54 132.34,161.34 137.03,160.78" fill="none" stroke="#fff" stroke-width="1.5" stroke-linejoin="miter"/><polygon points="139.00,156.50 140.97,160.78 145.66,161.34 142.20,164.54 143.11,169.16 139.00,166.86 134.89,169.16 135.80,164.54 132.34,161.34 137.03,160.78" fill="none" stroke="#444" stroke-width="0.5" stroke-linejoin="miter"/><rect x="158.2" y="177.2" width="3.6" height="3.6" fill="none" stroke="#d01010" stroke-width="1"/><rect x="166.0" y="219.89999999999998" width="3.6" height="3.6" fill="none" stroke="#d01010" stroke-width="1"/><rect x="105.60000000000001" y="288.0" width="3.6" height="3.6" fill="none" stroke="#d01010" stroke-width="1"/><rect x="67.5" y="217.7" width="3.6" height="3.6" fill="none" stroke="#d01010" stroke-width="1"/><rect x="114.2" y="226.7" width="3.6" height="3.6" fill="none" stroke="#d01010" stroke-width="1"/><rect x="103.2" y="174.5" width="3.6" height="3.6" fill="none" stroke="#d01010" stroke-width="1"/><text x="34.81" y="144.40" font-size="14.00" textLength="84.21" lengthAdjust="spacingAndGlyphs" fill="#111">Depth: 18km</text><text x="0" y="5.18" font-size="14.8" text-anchor="middle" fill="#111" transform="translate(77,116) rotate(70)">C</text><text x="0" y="5.18" font-size="14.8" text-anchor="middle" fill="#111" transform="translate(99.5,112) rotate(70)">B</text><text x="0" y="5.07" font-size="14.5" text-anchor="middle" fill="#111" transform="translate(141.5,285.5) rotate(70)">C’</text><text x="0" y="5.07" font-size="14.5" text-anchor="middle" fill="#111" transform="translate(164.5,276.5) rotate(70)">B’</text><rect x="30.5" y="105.2" width="162.0" height="217.3" fill="none" stroke="#777" stroke-width="0.8"/><rect x="34" y="108.5" width="154.5" height="210.5" fill="none" stroke="#777" stroke-width="0.6"/><rect x="85.5" y="105.2" width="51.5" height="3.299999999999997" fill="#000"/><rect x="85.5" y="319" width="51.5" height="3.5" fill="#000"/><rect x="30.5" y="108.5" width="3.5" height="17.0" fill="#000"/><rect x="188.5" y="108.5" width="4.0" height="17.0" fill="#000"/><rect x="30.5" y="190" width="3.5" height="65" fill="#000"/><rect x="188.5" y="190" width="4.0" height="65" fill="#000"/><text x="195" y="128.2" font-size="7.6" text-anchor="start" fill="#111" stroke="#111" stroke-width="0.2">37.6°</text><text x="195" y="192.7" font-size="7.6" text-anchor="start" fill="#111" stroke="#111" stroke-width="0.2">37.5°</text><text x="195" y="257.7" font-size="7.6" text-anchor="start" fill="#111" stroke="#111" stroke-width="0.2">37.4°</text><text x="195" y="321.7" font-size="7.6" text-anchor="start" fill="#111" stroke="#111" stroke-width="0.2">37.3°</text><text x="35" y="332.3" font-size="7.6" text-anchor="middle" fill="#111" stroke="#111" stroke-width="0.2">137.1°</text><text x="86.5" y="332.3" font-size="7.6" text-anchor="middle" fill="#111" stroke="#111" stroke-width="0.2">137.2°</text><text x="138" y="332.3" font-size="7.6" text-anchor="middle" fill="#111" stroke="#111" stroke-width="0.2">137.3°</text><text x="189.5" y="332.3" font-size="7.6" text-anchor="middle" fill="#111" stroke="#111" stroke-width="0.2">137.4°</text><rect x="64.6" y="343.8" width="90.4" height="2.2" fill="#ccc" stroke="#666" stroke-width="0.3"/><rect x="64.6" y="343.8" width="22.2" height="2.2" fill="#000"/><rect x="108.8" y="343.8" width="23.5" height="2.2" fill="#000"/><line x1="64.6" y1="343.8" x2="64.6" y2="348" stroke="#444" stroke-width="0.5"/><text x="64.4" y="355.5" font-size="7.6" text-anchor="middle" fill="#111" stroke="#111" stroke-width="0.2">0</text><text x="108.8" y="355.5" font-size="7.6" text-anchor="middle" fill="#111" stroke="#111" stroke-width="0.2">7.5</text><text x="155" y="355.5" font-size="7.6" text-anchor="middle" fill="#111" stroke="#111" stroke-width="0.2">15</text><g clip-path="url(#cbp)"><g filter="url(#cm1)"><rect x="240" y="55" width="180" height="150" fill="rgb(107,107,107)"/><ellipse cx="248" cy="110" rx="6" ry="50" fill="rgb(76,76,76)" filter="url(#g6)"/><ellipse cx="256" cy="70" rx="10" ry="10" fill="rgb(71,71,71)" filter="url(#g6)"/><ellipse cx="280" cy="62" rx="16" ry="8" fill="rgb(0,0,0)" filter="url(#g4)"/><ellipse cx="279" cy="81" rx="7" ry="6" fill="rgb(189,189,189)" filter="url(#g4)"/><ellipse cx="364" cy="80" rx="22" ry="12" fill="rgb(204,204,204)" filter="url(#g6)"/><ellipse cx="346" cy="72" rx="27" ry="17" fill="rgb(255,255,255)" transform="rotate(4 346 72)" filter="url(#g6)"/><ellipse cx="372" cy="117" rx="38" ry="13" fill="rgb(26,26,26)" transform="rotate(18 372 117)" filter="url(#g8)"/><ellipse cx="400" cy="92" rx="20" ry="14" fill="rgb(64,64,64)" filter="url(#g8)"/><ellipse cx="335" cy="112" rx="10" ry="18" fill="rgb(64,64,64)" filter="url(#g7)"/><ellipse cx="411" cy="67" rx="6" ry="12" fill="rgb(0,0,0)" filter="url(#g4)"/><ellipse cx="398" cy="190" rx="22" ry="10" fill="rgb(89,89,89)" filter="url(#g8)"/><ellipse cx="252" cy="185" rx="10" ry="14" fill="rgb(51,51,51)" filter="url(#g6)"/><rect x="253" y="104" width="62" height="80" rx="20" fill="rgb(0,0,0)" filter="url(#g5)"/><ellipse cx="341" cy="168" rx="22" ry="24" fill="rgb(158,158,158)" filter="url(#g8)"/><ellipse cx="341" cy="165" rx="14" ry="16" fill="rgb(255,255,255)" filter="url(#g8)"/></g></g><g clip-path="url(#ccp)"><g filter="url(#cm1)"><rect x="500" y="55" width="180" height="150" fill="rgb(107,107,107)"/><ellipse cx="518" cy="72" rx="14" ry="14" fill="rgb(84,84,84)" filter="url(#g6)"/><ellipse cx="538" cy="78" rx="11" ry="9" fill="rgb(168,168,168)" filter="url(#g6)"/><ellipse cx="568" cy="67" rx="9" ry="15" fill="rgb(38,38,38)" filter="url(#g5)"/><ellipse cx="628" cy="63" rx="16" ry="6" fill="rgb(184,184,184)" filter="url(#g5)"/><ellipse cx="606" cy="70" rx="17" ry="15" fill="rgb(255,255,255)" filter="url(#g6)"/><ellipse cx="652" cy="125" rx="28" ry="52" fill="rgb(69,69,69)" filter="url(#g10)"/><ellipse cx="645" cy="72" rx="16" ry="10" fill="rgb(84,84,84)" filter="url(#g8)"/><ellipse cx="592" cy="118" rx="14" ry="20" fill="rgb(51,51,51)" filter="url(#g7)"/><ellipse cx="565" cy="118" rx="18" ry="14" fill="rgb(56,56,56)" transform="rotate(35 565 118)" filter="url(#g6)"/><path d="M510,108 Q510,98 524,98 L546,100 Q564,104 576,116 Q587,127 587,145 L587,172 Q585,190 566,190 L528,190 Q510,189 510,172 Z" fill="rgb(0,0,0)" filter="url(#g5)"/><ellipse cx="610" cy="162" rx="18" ry="25" fill="rgb(158,158,158)" filter="url(#g8)"/><ellipse cx="610" cy="160" rx="11" ry="18" fill="rgb(255,255,255)" filter="url(#g7)"/></g></g><g clip-path="url(#cdp)"><g filter="url(#cm1)"><g filter="url(#g3)"><rect x="240" y="255" width="180" height="150" fill="rgb(38,38,38)"/><path d="M240.0,362.0 C241.5,362.9 245.1,363.9 249.2,367.5 C253.3,371.1 257.9,379.9 264.8,383.4 C271.7,386.9 282.9,388.3 290.5,388.3 C298.1,388.3 305.7,386.5 310.3,383.4 C314.9,380.3 316.0,374.1 318.3,369.5 C320.6,364.9 321.9,359.1 324.2,355.6 C326.5,352.1 329.8,350.0 332.1,348.7 C334.4,347.4 334.6,347.8 337.8,347.9 C341.0,347.9 347.1,347.9 351.2,349.0 C355.3,350.1 359.0,352.3 362.3,354.5 C365.6,356.7 368.1,359.2 371.0,362.0 C373.9,364.8 376.0,368.8 380.0,371.2 C384.0,373.6 389.4,374.8 395.0,376.5 C400.6,378.2 409.3,380.6 413.5,381.7 C417.7,382.8 418.9,382.8 420.0,383.0 L420,255 L240,255 Z" fill="rgb(87,87,87)"/><path d="M240.0,334.0 C241.5,335.0 245.4,335.2 249.2,339.8 C253.0,344.4 256.9,356.0 262.8,361.6 C268.7,367.2 278.0,372.4 284.6,373.5 C291.2,374.6 298.3,371.1 302.4,368.5 C306.5,365.9 308.1,361.7 309.4,357.6 C310.7,353.5 310.0,348.7 310.3,343.8 C310.6,338.9 310.5,332.7 311.3,328.0 C312.1,323.3 313.8,317.3 315.2,315.8 C316.6,314.3 315.5,316.1 320.0,318.9 C324.5,321.6 333.0,328.8 342.3,332.3 C351.6,335.8 363.8,337.9 375.7,340.0 C387.6,342.1 406.1,344.2 413.5,345.2 C420.9,346.2 418.9,345.9 420.0,346.0 L420,255 L240,255 Z" fill="rgb(102,102,102)"/><ellipse cx="283" cy="338" rx="16" ry="20" fill="rgb(115,115,115)" filter="url(#g8)"/><ellipse cx="405" cy="322" rx="10" ry="16" fill="rgb(89,89,89)" filter="url(#g8)"/><path d="M240.0,281.0 C241.6,281.6 245.6,281.6 249.3,284.3 C253.0,287.0 257.5,292.8 262.0,297.0 C266.5,301.2 272.0,308.1 276.2,309.4 C280.4,310.7 284.0,307.4 287.0,305.0 C290.0,302.6 291.9,299.2 294.0,295.0 C296.1,290.8 298.3,284.7 299.5,280.0 C300.7,275.3 301.0,269.5 301.4,267.0 C301.8,264.5 301.6,265.5 301.6,265.2 L301.6,255 L240,255 Z" fill="rgb(128,128,128)"/><path d="M316.7,265.3 C317.1,266.9 317.6,271.6 319.0,275.0 C320.4,278.4 321.7,282.4 325.4,286.0 C329.1,289.6 336.9,294.4 341.0,296.4 C345.1,298.4 346.5,298.6 349.7,298.0 C352.9,297.4 357.1,295.0 360.0,293.0 C362.9,291.0 362.9,287.3 367.0,286.0 C371.1,284.7 376.6,285.6 384.3,285.0 C392.1,284.4 407.6,282.7 413.5,282.2 C419.4,281.7 418.9,282.0 420.0,282.0 L420,255 L316.7,255 Z" fill="rgb(128,128,128)"/><path d="M240.0,273.0 C241.6,273.4 245.6,274.1 249.3,275.6 C253.0,277.1 258.4,280.3 262.0,282.0 C265.6,283.7 267.6,285.2 271.0,286.0 C274.4,286.8 279.3,288.1 282.3,286.9 C285.3,285.7 287.6,282.3 289.0,279.0 C290.4,275.7 290.6,269.3 291.0,267.0 C291.4,264.7 291.2,265.5 291.3,265.2 L291.3,255 L240,255 Z" fill="rgb(153,153,153)"/><path d="M326.3,265.3 C327.3,267.0 329.0,272.7 332.3,275.6 C335.6,278.5 340.4,282.1 346.2,282.5 C352.0,282.9 355.8,280.1 367.0,278.2 C378.2,276.3 404.7,272.5 413.5,271.3 C422.3,270.1 418.9,271.1 420.0,271.0 L420,255 L326.3,255 Z" fill="rgb(153,153,153)"/><path d="M240.0,264.0 C241.6,264.3 245.6,265.1 249.3,266.0 C253.0,266.9 258.4,268.8 262.0,269.5 C265.6,270.2 268.2,270.9 271.0,270.4 C273.8,269.9 277.3,267.5 278.8,266.6 C280.3,265.7 279.8,265.4 280.0,265.2 L280,255 L240,255 Z" fill="rgb(178,178,178)"/><path d="M332.3,265.3 C334.3,266.6 339.9,271.8 344.5,273.0 C349.1,274.2 352.2,273.5 360.0,272.5 C367.8,271.5 384.9,268.2 391.0,267.0 C397.1,265.8 395.5,265.6 396.4,265.3 L396.4,255 L332.3,255 Z" fill="rgb(178,178,178)"/><path d="M341.0,265.3 C342.9,265.7 347.4,267.6 352.3,267.8 C357.2,268.0 366.8,267.0 370.4,266.6 C374.0,266.2 373.4,265.5 374.0,265.3 L374,255 L341,255 Z" fill="rgb(204,204,204)"/><ellipse cx="343" cy="377" rx="16" ry="14" fill="rgb(8,8,8)" filter="url(#g6)"/><ellipse cx="252" cy="393" rx="12" ry="8" fill="rgb(31,31,31)" filter="url(#g6)"/></g></g></g><g clip-path="url(#cdp)"><path d="M249.3,266.0 C251.4,266.6 258.4,268.8 262.0,269.5 C265.6,270.2 268.2,270.9 271.0,270.4 C273.8,269.9 277.3,267.5 278.8,266.6 C280.3,265.7 279.8,265.4 280.0,265.2" fill="none" stroke="#111" stroke-width="0.8"/><path d="M249.3,275.6 C251.4,276.7 258.4,280.3 262.0,282.0 C265.6,283.7 267.6,285.2 271.0,286.0 C274.4,286.8 279.3,288.1 282.3,286.9 C285.3,285.7 287.6,282.3 289.0,279.0 C290.4,275.7 290.6,269.3 291.0,267.0 C291.4,264.7 291.2,265.5 291.3,265.2" fill="none" stroke="#111" stroke-width="0.8"/><path d="M249.3,284.3 C251.4,286.4 257.5,292.8 262.0,297.0 C266.5,301.2 272.0,308.1 276.2,309.4 C280.4,310.7 284.0,307.4 287.0,305.0 C290.0,302.6 291.9,299.2 294.0,295.0 C296.1,290.8 298.3,284.7 299.5,280.0 C300.7,275.3 301.0,269.5 301.4,267.0 C301.8,264.5 301.6,265.5 301.6,265.2" fill="none" stroke="#111" stroke-width="0.8"/><path d="M316.7,265.3 C317.1,266.9 317.6,271.6 319.0,275.0 C320.4,278.4 321.7,282.4 325.4,286.0 C329.1,289.6 336.9,294.4 341.0,296.4 C345.1,298.4 346.5,298.6 349.7,298.0 C352.9,297.4 357.1,295.0 360.0,293.0 C362.9,291.0 362.9,287.3 367.0,286.0 C371.1,284.7 376.6,285.6 384.3,285.0 C392.1,284.4 408.6,282.7 413.5,282.2" fill="none" stroke="#111" stroke-width="0.8"/><path d="M326.3,265.3 C327.3,267.0 329.0,272.7 332.3,275.6 C335.6,278.5 340.4,282.1 346.2,282.5 C352.0,282.9 355.8,280.1 367.0,278.2 C378.2,276.3 405.8,272.4 413.5,271.3" fill="none" stroke="#111" stroke-width="0.8"/><path d="M332.3,265.3 C334.3,266.6 339.9,271.8 344.5,273.0 C349.1,274.2 352.2,273.5 360.0,272.5 C367.8,271.5 384.9,268.2 391.0,267.0 C397.1,265.8 395.5,265.6 396.4,265.3" fill="none" stroke="#111" stroke-width="0.8"/><path d="M341.0,265.3 C342.9,265.7 347.4,267.6 352.3,267.8 C357.2,268.0 366.8,267.0 370.4,266.6 C374.0,266.2 373.4,265.5 374.0,265.3" fill="none" stroke="#111" stroke-width="0.8"/><path d="M249.2,339.8 C251.5,343.4 256.9,356.0 262.8,361.6 C268.7,367.2 278.0,372.4 284.6,373.5 C291.2,374.6 298.3,371.1 302.4,368.5 C306.5,365.9 308.1,361.7 309.4,357.6 C310.7,353.5 310.0,348.7 310.3,343.8 C310.6,338.9 310.5,332.7 311.3,328.0 C312.1,323.3 313.8,317.3 315.2,315.8 C316.6,314.3 315.5,316.1 320.0,318.9 C324.5,321.6 333.0,328.8 342.3,332.3 C351.6,335.8 363.8,337.9 375.7,340.0 C387.6,342.1 407.2,344.3 413.5,345.2" fill="none" stroke="#111" stroke-width="0.8"/><path d="M249.2,367.5 C251.8,370.1 257.9,379.9 264.8,383.4 C271.7,386.9 282.9,388.3 290.5,388.3 C298.1,388.3 305.7,386.5 310.3,383.4 C314.9,380.3 316.0,374.1 318.3,369.5 C320.6,364.9 321.9,359.1 324.2,355.6 C326.5,352.1 329.8,350.0 332.1,348.7 C334.4,347.4 334.6,347.8 337.8,347.9 C341.0,347.9 347.1,347.9 351.2,349.0 C355.3,350.1 360.4,353.6 362.3,354.5" fill="none" stroke="#111" stroke-width="0.8"/><path d="M380.0,371.2 C382.5,372.1 389.4,374.8 395.0,376.5 C400.6,378.2 410.4,380.8 413.5,381.7" fill="none" stroke="#111" stroke-width="0.8"/><path d="M342,364.6 L346.7,369 L342,373.5 Q340.5,369 342,364.6 Z" fill="none" stroke="#111" stroke-width="0.8"/></g><text x="0" y="4.55" font-size="13" text-anchor="middle" textLength="15.5" lengthAdjust="spacingAndGlyphs" fill="#111" transform="translate(371,364) rotate(35)">6.4</text><g clip-path="url(#cep)"><g filter="url(#cm1)"><g filter="url(#g3)"><rect x="505" y="255" width="180" height="150" fill="rgb(38,38,38)"/><path d="M505.0,356.0 C506.4,357.4 510.0,360.7 513.3,364.6 C516.6,368.5 517.9,375.6 524.8,379.4 C531.7,383.2 544.6,386.6 554.5,387.3 C564.4,388.0 577.9,385.4 584.2,383.4 C590.5,381.4 590.1,379.4 592.1,375.4 C594.1,371.4 594.7,363.2 596.0,359.6 C597.3,356.0 598.5,355.0 600.0,353.7 C601.5,352.4 603.0,351.9 604.8,351.7 C606.6,351.5 608.7,351.0 610.7,352.7 C612.7,354.4 614.5,358.1 616.7,361.6 C618.9,365.2 621.4,370.5 624.0,374.0 C626.6,377.5 629.1,380.7 632.5,382.4 C635.9,384.1 637.2,384.6 644.4,384.4 C651.6,384.2 669.0,382.0 675.8,381.4 C682.6,380.8 683.5,381.1 685.0,381.0 L685,255 L505,255 Z" fill="rgb(87,87,87)"/><path d="M505.0,330.0 C506.4,331.6 510.0,334.9 513.3,339.8 C516.6,344.7 519.6,354.3 524.8,359.6 C530.0,364.9 538.0,368.5 544.6,371.5 C551.2,374.5 558.5,376.9 564.4,377.4 C570.3,377.9 576.6,376.5 580.2,374.5 C583.8,372.5 585.0,369.0 586.2,365.5 C587.4,362.0 586.9,357.3 587.2,353.7 C587.5,350.1 587.2,347.2 588.0,343.8 C588.8,340.4 589.2,335.5 592.0,333.0 C594.8,330.5 597.7,329.9 604.8,328.9 C611.9,327.9 628.1,326.1 634.5,326.9 C640.9,327.7 642.1,331.1 643.4,333.9 C644.7,336.7 643.5,340.5 642.4,343.8 C641.2,347.1 637.6,350.7 636.5,353.7 C635.4,356.7 634.2,360.3 635.5,361.6 C636.8,362.9 640.3,362.4 644.4,361.6 C648.5,360.8 655.0,358.2 660.2,356.6 C665.4,355.0 671.7,353.0 675.8,351.7 C679.9,350.4 683.5,349.4 685.0,349.0 L685,255 L505,255 Z" fill="rgb(102,102,102)"/><ellipse cx="662" cy="330" rx="14" ry="20" fill="rgb(92,92,92)" filter="url(#g8)"/><path d="M505.0,283.0 C506.4,283.1 508.3,283.2 513.3,283.7 C518.2,284.1 526.2,285.9 534.7,285.7 C543.2,285.5 556.1,283.7 564.4,282.7 C572.6,281.7 578.9,281.1 584.2,279.8 C589.5,278.5 592.5,276.1 596.0,274.8 C599.5,273.5 601.7,272.6 605.0,271.8 C608.3,271.0 611.5,269.7 615.7,269.9 C620.0,270.1 625.7,271.1 630.5,272.8 C635.3,274.5 640.8,278.3 644.4,279.8 C648.0,281.3 649.4,281.1 652.3,281.7 C655.2,282.3 658.9,283.0 662.0,283.5 C665.1,284.0 668.7,284.2 671.0,284.5 C673.3,284.8 673.5,284.9 675.8,285.0 C678.1,285.1 683.5,285.0 685.0,285.0 L685,255 L505,255 Z" fill="rgb(128,128,128)"/><path d="M601.0,288.0 C603.0,286.8 603.9,289.6 607.8,289.7 C611.7,289.8 620.0,288.0 624.6,288.7 C629.2,289.4 633.4,292.0 635.5,293.6 C637.6,295.2 637.8,296.6 637.5,298.6 C637.2,300.6 636.6,303.4 633.5,305.5 C630.4,307.6 623.5,310.4 618.7,311.4 C613.9,312.4 608.1,312.2 604.8,311.4 C601.5,310.6 600.4,308.9 598.9,306.5 C597.4,304.1 595.6,300.1 596.0,297.0 C596.4,293.9 599.0,289.2 601.0,288.0 Z" fill="rgb(122,122,122)"/><path d="M529.0,338.0 C526.6,333.2 526.0,332.0 525.8,328.0 C525.6,324.0 526.8,317.5 528.0,314.0 C529.2,310.5 531.0,308.7 533.0,307.0 C535.0,305.3 537.3,304.0 540.0,304.0 C542.7,304.0 546.3,305.0 549.0,307.0 C551.7,309.0 553.7,312.2 556.0,316.0 C558.3,319.8 560.3,325.0 563.0,330.0 C565.7,335.0 570.0,341.4 572.0,346.0 C574.0,350.6 575.6,354.4 575.3,357.6 C575.0,360.8 572.2,363.4 570.0,365.0 C567.8,366.6 565.0,367.2 562.0,367.0 C559.0,366.8 555.7,365.7 552.0,364.0 C548.3,362.3 543.8,361.3 540.0,357.0 C536.2,352.7 531.4,342.8 529.0,338.0 Z" fill="rgb(128,128,128)"/><ellipse cx="551" cy="336" rx="8" ry="20" fill="rgb(140,140,140)" transform="rotate(-28 551 336)" filter="url(#g6)"/><path d="M505.0,274.0 C506.4,274.0 510.0,273.9 513.3,273.8 C516.6,273.7 517.9,273.6 524.8,273.2 C531.7,272.8 545.3,271.9 554.5,271.2 C563.7,270.5 574.3,270.1 580.2,268.9 C586.1,267.7 588.4,264.9 590.0,264.1 L590,255 L505,255 Z" fill="rgb(153,153,153)"/><path d="M648.4,264.1 C650.0,265.2 653.7,269.0 658.3,270.8 C662.9,272.6 671.3,273.9 675.8,274.8 C680.2,275.7 683.5,275.8 685.0,276.0 L685,255 L648.4,255 Z" fill="rgb(153,153,153)"/><path d="M544.6,264.1 C545.8,264.4 549.4,265.3 552.0,265.6 C554.6,265.9 557.4,265.9 560.4,265.9 C563.4,265.8 567.4,265.6 570.0,265.3 C572.6,265.0 575.2,264.3 576.3,264.1 L576.3,255 L544.6,255 Z" fill="rgb(178,178,178)"/><ellipse cx="672" cy="264" rx="6" ry="4" fill="rgb(184,184,184)" filter="url(#g3)"/><ellipse cx="614" cy="382" rx="14" ry="16" fill="rgb(8,8,8)" filter="url(#g6)"/><ellipse cx="518" cy="392" rx="10" ry="8" fill="rgb(31,31,31)" filter="url(#g6)"/></g></g></g><g clip-path="url(#cep)"><path d="M544.6,264.1 C545.8,264.4 549.4,265.3 552.0,265.6 C554.6,265.9 557.4,265.9 560.4,265.9 C563.4,265.8 567.4,265.6 570.0,265.3 C572.6,265.0 575.2,264.3 576.3,264.1" fill="none" stroke="#111" stroke-width="0.8"/><path d="M513.3,273.8 C515.2,273.7 517.9,273.6 524.8,273.2 C531.7,272.8 545.3,271.9 554.5,271.2 C563.7,270.5 574.3,270.1 580.2,268.9 C586.1,267.7 588.4,264.9 590.0,264.1" fill="none" stroke="#111" stroke-width="0.8"/><path d="M513.3,283.7 C516.9,284.0 526.2,285.9 534.7,285.7 C543.2,285.5 556.1,283.7 564.4,282.7 C572.6,281.7 578.9,281.1 584.2,279.8 C589.5,278.5 592.5,276.1 596.0,274.8 C599.5,273.5 601.7,272.6 605.0,271.8 C608.3,271.0 611.5,269.7 615.7,269.9 C620.0,270.1 625.7,271.1 630.5,272.8 C635.3,274.5 640.8,278.3 644.4,279.8 C648.0,281.3 651.0,281.4 652.3,281.7" fill="none" stroke="#111" stroke-width="0.8"/><path d="M671.0,284.5 C671.8,284.6 675.0,284.9 675.8,285.0" fill="none" stroke="#111" stroke-width="0.8"/><path d="M648.4,264.1 C650.0,265.2 653.7,269.0 658.3,270.8 C662.9,272.6 672.9,274.1 675.8,274.8" fill="none" stroke="#111" stroke-width="0.8"/><path d="M601.0,288.0 C602.1,288.3 603.9,289.6 607.8,289.7 C611.7,289.8 620.0,288.0 624.6,288.7 C629.2,289.4 633.4,292.0 635.5,293.6 C637.6,295.2 637.8,296.6 637.5,298.6 C637.2,300.6 636.6,303.4 633.5,305.5 C630.4,307.6 623.5,310.4 618.7,311.4 C613.9,312.4 608.1,312.2 604.8,311.4 C601.5,310.6 599.9,307.3 598.9,306.5" fill="none" stroke="#111" stroke-width="0.8"/><path d="M513.3,339.8 C515.2,343.1 519.6,354.3 524.8,359.6 C530.0,364.9 538.0,368.5 544.6,371.5 C551.2,374.5 558.5,376.9 564.4,377.4 C570.3,377.9 576.6,376.5 580.2,374.5 C583.8,372.5 585.0,369.0 586.2,365.5 C587.4,362.0 586.9,357.3 587.2,353.7 C587.5,350.1 587.2,347.2 588.0,343.8 C588.8,340.4 589.2,335.5 592.0,333.0 C594.8,330.5 597.7,329.9 604.8,328.9 C611.9,327.9 628.1,326.1 634.5,326.9 C640.9,327.7 642.1,331.1 643.4,333.9 C644.7,336.7 643.5,340.5 642.4,343.8 C641.2,347.1 637.6,350.7 636.5,353.7 C635.4,356.7 634.2,360.3 635.5,361.6 C636.8,362.9 640.3,362.4 644.4,361.6 C648.5,360.8 655.0,358.2 660.2,356.6 C665.4,355.0 673.2,352.5 675.8,351.7" fill="none" stroke="#111" stroke-width="0.8"/><path d="M513.3,364.6 C515.2,367.1 517.9,375.6 524.8,379.4 C531.7,383.2 544.6,386.6 554.5,387.3 C564.4,388.0 577.9,385.4 584.2,383.4 C590.5,381.4 590.1,379.4 592.1,375.4 C594.1,371.4 594.7,363.2 596.0,359.6 C597.3,356.0 598.5,355.0 600.0,353.7 C601.5,352.4 603.0,351.9 604.8,351.7 C606.6,351.5 608.7,351.0 610.7,352.7 C612.7,354.4 615.7,360.1 616.7,361.6" fill="none" stroke="#111" stroke-width="0.8"/><path d="M632.5,382.4 C634.5,382.7 637.2,384.6 644.4,384.4 C651.6,384.2 670.6,381.9 675.8,381.4" fill="none" stroke="#111" stroke-width="0.8"/><path d="M529.0,338.0 C528.5,336.3 526.0,332.0 525.8,328.0 C525.6,324.0 526.8,317.5 528.0,314.0 C529.2,310.5 531.0,308.7 533.0,307.0 C535.0,305.3 537.3,304.0 540.0,304.0 C542.7,304.0 546.3,305.0 549.0,307.0 C551.7,309.0 553.7,312.2 556.0,316.0 C558.3,319.8 560.3,325.0 563.0,330.0 C565.7,335.0 570.0,341.4 572.0,346.0 C574.0,350.6 575.6,354.4 575.3,357.6 C575.0,360.8 572.2,363.4 570.0,365.0 C567.8,366.6 565.0,367.2 562.0,367.0 C559.0,366.8 553.7,364.5 552.0,364.0" fill="none" stroke="#111" stroke-width="0.8"/></g><text x="0" y="4.55" font-size="13" text-anchor="middle" textLength="16.5" lengthAdjust="spacingAndGlyphs" fill="#111" transform="translate(661.5,283) rotate(0)">5.6</text><text x="0" y="4.55" font-size="13" text-anchor="middle" textLength="16.5" lengthAdjust="spacingAndGlyphs" fill="#111" transform="translate(598,294.5) rotate(-62)">5.6</text><text x="0" y="4.55" font-size="13" text-anchor="middle" textLength="16.5" lengthAdjust="spacingAndGlyphs" fill="#111" transform="translate(538.5,350.5) rotate(50)">5.6</text><text x="0" y="4.55" font-size="13" text-anchor="middle" textLength="16.5" lengthAdjust="spacingAndGlyphs" fill="#111" transform="translate(623,375) rotate(42)">6.4</text><g clip-path="url(#cbp)"><circle cx="293.9" cy="117.9" r="1.1" fill="#333"/><circle cx="314.7" cy="114.9" r="1.1" fill="#333"/><circle cx="296.3" cy="118.8" r="1.1" fill="#333"/><circle cx="282.1" cy="116.4" r="1.1" fill="#333"/><circle cx="301.7" cy="125.4" r="1.1" fill="#333"/><circle cx="278.1" cy="109.7" r="1.1" fill="#333"/><circle cx="278.0" cy="125.9" r="1.1" fill="#333"/><circle cx="317.2" cy="130.9" r="1.1" fill="#333"/><circle cx="302.8" cy="119.7" r="1.1" fill="#333"/><circle cx="282.4" cy="107.7" r="1.1" fill="#333"/><circle cx="275.3" cy="114.8" r="1.1" fill="#333"/><circle cx="293.4" cy="127.0" r="1.1" fill="#333"/><circle cx="296.8" cy="120.5" r="1.1" fill="#333"/><circle cx="296.0" cy="121.2" r="1.1" fill="#333"/><circle cx="294.1" cy="108.9" r="1.1" fill="#333"/><circle cx="317.9" cy="131.9" r="1.1" fill="#333"/><circle cx="311.0" cy="122.6" r="1.1" fill="#333"/><circle cx="287.9" cy="107.3" r="1.1" fill="#333"/><circle cx="307.7" cy="112.8" r="1.1" fill="#333"/><circle cx="311.2" cy="112.4" r="1.1" fill="#333"/><circle cx="316.2" cy="127.1" r="1.1" fill="#333"/><circle cx="274.0" cy="106.7" r="1.1" fill="#333"/><circle cx="314.1" cy="115.0" r="1.1" fill="#333"/><circle cx="317.1" cy="112.7" r="1.1" fill="#333"/><circle cx="277.2" cy="120.1" r="1.1" fill="#333"/><circle cx="308.3" cy="108.6" r="1.1" fill="#333"/><circle cx="277.8" cy="110.6" r="1.1" fill="#333"/><circle cx="316.4" cy="124.3" r="1.1" fill="#333"/><circle cx="279.2" cy="107.9" r="1.1" fill="#333"/><circle cx="278.4" cy="101.9" r="1.1" fill="#333"/><circle cx="298.6" cy="114.3" r="1.1" fill="#333"/><circle cx="282.4" cy="123.4" r="1.1" fill="#333"/><circle cx="279.8" cy="120.6" r="1.1" fill="#333"/><circle cx="279.1" cy="113.5" r="1.1" fill="#333"/><circle cx="283.4" cy="108.6" r="1.1" fill="#333"/><circle cx="316.7" cy="125.7" r="1.1" fill="#333"/><circle cx="287.4" cy="128.3" r="1.1" fill="#333"/><circle cx="283.3" cy="112.6" r="1.1" fill="#333"/><circle cx="311.6" cy="120.5" r="1.1" fill="#333"/><circle cx="278.4" cy="131.7" r="1.1" fill="#333"/><circle cx="307.0" cy="136.3" r="1.1" fill="#222"/><circle cx="306.7" cy="131.3" r="1.1" fill="#222"/><circle cx="305.4" cy="135.1" r="1.1" fill="#222"/><circle cx="312.1" cy="136.1" r="1.1" fill="#222"/><circle cx="306.3" cy="138.1" r="1.1" fill="#222"/><circle cx="301.8" cy="136.4" r="1.1" fill="#222"/><circle cx="312.1" cy="133.1" r="1.1" fill="#222"/><circle cx="296.2" cy="131.3" r="1.1" fill="#222"/><circle cx="307.3" cy="135.6" r="1.1" fill="#222"/><circle cx="314.5" cy="131.0" r="1.1" fill="#222"/><circle cx="306.0" cy="135.9" r="1.1" fill="#222"/><circle cx="305.1" cy="126.9" r="1.1" fill="#222"/><circle cx="310.4" cy="140.9" r="1.1" fill="#222"/><circle cx="311.5" cy="131.2" r="1.1" fill="#222"/><circle cx="303.7" cy="134.7" r="1.1" fill="#222"/><circle cx="319.7" cy="135.9" r="1.1" fill="#222"/><circle cx="306.6" cy="138.7" r="1.1" fill="#222"/><circle cx="305.6" cy="139.6" r="1.1" fill="#222"/><circle cx="302.2" cy="132.6" r="1.1" fill="#222"/><circle cx="310.0" cy="138.3" r="1.1" fill="#222"/><circle cx="309.6" cy="134.9" r="1.1" fill="#222"/><circle cx="296.0" cy="131.9" r="1.1" fill="#222"/><circle cx="302.6" cy="132.4" r="1.1" fill="#222"/><circle cx="309.2" cy="133.0" r="1.1" fill="#222"/><circle cx="310.3" cy="134.2" r="1.1" fill="#222"/><circle cx="304.2" cy="134.4" r="1.1" fill="#222"/><circle cx="308.4" cy="136.6" r="1.1" fill="#222"/><circle cx="303.4" cy="133.3" r="1.1" fill="#222"/><circle cx="298.5" cy="138.8" r="1.1" fill="#222"/><circle cx="314.0" cy="133.5" r="1.1" fill="#222"/><circle cx="303.4" cy="130.3" r="1.1" fill="#222"/><circle cx="306.9" cy="134.6" r="1.1" fill="#222"/><circle cx="318.0" cy="134.7" r="1.1" fill="#222"/><circle cx="301.7" cy="126.7" r="1.1" fill="#222"/><circle cx="313.8" cy="134.6" r="1.1" fill="#222"/><circle cx="297.1" cy="134.5" r="1.1" fill="#222"/><circle cx="297.2" cy="144.4" r="1.1" fill="#222"/><circle cx="312.2" cy="135.7" r="1.1" fill="#222"/><circle cx="305.0" cy="127.6" r="1.1" fill="#222"/><circle cx="305.3" cy="129.3" r="1.1" fill="#222"/><circle cx="309.3" cy="127.6" r="1.1" fill="#222"/><circle cx="301.0" cy="137.7" r="1.1" fill="#222"/><circle cx="315.0" cy="130.5" r="1.1" fill="#222"/><circle cx="297.6" cy="136.6" r="1.1" fill="#222"/><circle cx="310.7" cy="131.0" r="1.1" fill="#222"/><circle cx="302.2" cy="131.9" r="1.1" fill="#222"/><circle cx="299.5" cy="132.0" r="1.1" fill="#222"/><circle cx="312.9" cy="136.1" r="1.1" fill="#222"/><circle cx="317.3" cy="133.7" r="1.1" fill="#222"/><circle cx="305.3" cy="131.1" r="1.1" fill="#222"/><circle cx="305.3" cy="130.1" r="1.1" fill="#222"/><circle cx="296.2" cy="136.1" r="1.1" fill="#222"/><circle cx="313.9" cy="136.5" r="1.1" fill="#222"/><circle cx="313.3" cy="134.8" r="1.1" fill="#222"/><circle cx="302.0" cy="134.3" r="1.1" fill="#222"/><circle cx="303.9" cy="130.7" r="1.1" fill="#222"/><circle cx="296.7" cy="129.6" r="1.1" fill="#222"/><circle cx="306.0" cy="134.5" r="1.1" fill="#222"/><circle cx="303.4" cy="138.3" r="1.1" fill="#222"/><circle cx="307.0" cy="135.7" r="1.1" fill="#222"/><circle cx="312.7" cy="131.5" r="1.1" fill="#222"/><circle cx="295.2" cy="136.3" r="1.1" fill="#222"/><circle cx="302.2" cy="137.9" r="1.1" fill="#222"/><circle cx="307.9" cy="137.0" r="1.1" fill="#222"/><circle cx="310.2" cy="127.8" r="1.1" fill="#222"/><circle cx="310.0" cy="132.0" r="1.1" fill="#222"/><circle cx="301.8" cy="132.7" r="1.1" fill="#222"/><circle cx="310.2" cy="136.7" r="1.1" fill="#222"/><circle cx="311.6" cy="129.0" r="1.1" fill="#222"/><circle cx="302.8" cy="126.9" r="1.1" fill="#222"/><circle cx="305.4" cy="135.8" r="1.1" fill="#222"/><circle cx="301.8" cy="134.7" r="1.1" fill="#222"/><circle cx="307.3" cy="137.0" r="1.1" fill="#222"/><circle cx="301.5" cy="131.5" r="1.1" fill="#222"/><circle cx="301.8" cy="139.3" r="1.1" fill="#222"/><circle cx="312.0" cy="133.6" r="1.1" fill="#222"/><circle cx="307.2" cy="134.3" r="1.1" fill="#222"/><circle cx="307.1" cy="133.4" r="1.1" fill="#222"/><circle cx="304.2" cy="130.2" r="1.1" fill="#222"/><circle cx="302.5" cy="139.0" r="1.1" fill="#222"/><circle cx="309.0" cy="134.2" r="1.1" fill="#222"/><circle cx="304.8" cy="134.2" r="1.1" fill="#222"/><circle cx="307.9" cy="132.1" r="1.1" fill="#222"/><circle cx="307.1" cy="134.7" r="1.1" fill="#222"/><circle cx="301.9" cy="131.6" r="1.1" fill="#222"/><circle cx="300.5" cy="130.8" r="1.1" fill="#222"/><circle cx="310.9" cy="126.9" r="1.1" fill="#222"/><circle cx="304.5" cy="132.2" r="1.1" fill="#222"/><circle cx="302.6" cy="134.3" r="1.1" fill="#222"/><circle cx="312.2" cy="134.2" r="1.1" fill="#222"/><circle cx="304.2" cy="133.0" r="1.0" fill="#fff"/><circle cx="304.2" cy="137.9" r="1.0" fill="#fff"/><circle cx="302.6" cy="131.3" r="1.0" fill="#fff"/><circle cx="297.4" cy="131.5" r="1.0" fill="#fff"/><circle cx="296.7" cy="138.5" r="1.0" fill="#fff"/><circle cx="307.1" cy="134.2" r="1.0" fill="#fff"/><circle cx="313.8" cy="132.9" r="1.0" fill="#fff"/><circle cx="309.5" cy="137.6" r="1.0" fill="#fff"/><circle cx="295.7" cy="130.0" r="1.0" fill="#fff"/><circle cx="299.4" cy="137.9" r="1.0" fill="#fff"/><circle cx="312.8" cy="131.1" r="1.0" fill="#fff"/><circle cx="311.3" cy="133.8" r="1.0" fill="#fff"/><circle cx="302.6" cy="133.2" r="1.0" fill="#fff"/><circle cx="303.1" cy="129.2" r="1.0" fill="#fff"/><circle cx="299.0" cy="131.0" r="1.0" fill="#fff"/><circle cx="307.9" cy="141.7" r="1.0" fill="#fff"/><circle cx="321.4" cy="133.9" r="1.0" fill="#fff"/><circle cx="294.7" cy="133.7" r="1.0" fill="#fff"/><circle cx="299.4" cy="141.3" r="1.0" fill="#fff"/><circle cx="308.4" cy="132.7" r="1.0" fill="#fff"/><circle cx="310.6" cy="136.7" r="1.0" fill="#fff"/><circle cx="295.2" cy="133.3" r="1.0" fill="#fff"/><circle cx="303.6" cy="135.1" r="1.0" fill="#fff"/><circle cx="305.8" cy="133.9" r="1.0" fill="#fff"/><circle cx="306.1" cy="133.1" r="1.0" fill="#fff"/><circle cx="299.6" cy="139.9" r="1.0" fill="#fff"/><circle cx="307.2" cy="136.4" r="1.0" fill="#fff"/><circle cx="295.4" cy="134.5" r="1.0" fill="#fff"/><circle cx="309.9" cy="130.9" r="1.0" fill="#fff"/><circle cx="311.6" cy="133.8" r="1.0" fill="#fff"/><circle cx="307.4" cy="134.6" r="1.0" fill="#fff"/><circle cx="306.3" cy="138.9" r="1.0" fill="#fff"/><circle cx="302.6" cy="140.0" r="1.0" fill="#fff"/><circle cx="300.3" cy="132.0" r="1.0" fill="#fff"/><circle cx="309.3" cy="131.6" r="1.0" fill="#fff"/><circle cx="302.8" cy="137.9" r="1.0" fill="#fff"/><circle cx="312.3" cy="129.3" r="1.0" fill="#fff"/><circle cx="308.0" cy="141.0" r="1.0" fill="#fff"/><circle cx="312.2" cy="134.2" r="1.0" fill="#fff"/><circle cx="301.4" cy="134.1" r="1.0" fill="#fff"/><circle cx="298.1" cy="134.2" r="1.0" fill="#fff"/><circle cx="303.9" cy="134.5" r="1.0" fill="#fff"/><circle cx="312.1" cy="134.3" r="1.0" fill="#fff"/><circle cx="296.3" cy="138.4" r="1.0" fill="#fff"/><circle cx="298.6" cy="133.6" r="1.0" fill="#fff"/><circle cx="304.2" cy="133.9" r="1.0" fill="#fff"/><circle cx="299.0" cy="134.2" r="1.0" fill="#fff"/><circle cx="318.1" cy="133.1" r="1.0" fill="#fff"/><circle cx="304.2" cy="138.6" r="1.0" fill="#fff"/><circle cx="309.5" cy="137.4" r="1.0" fill="#fff"/><circle cx="310.2" cy="128.7" r="1.0" fill="#fff"/><circle cx="299.8" cy="135.4" r="1.0" fill="#fff"/><circle cx="308.0" cy="139.1" r="1.0" fill="#fff"/><circle cx="307.8" cy="134.2" r="1.0" fill="#fff"/><circle cx="305.2" cy="134.3" r="1.0" fill="#fff"/><circle cx="306.5" cy="137.2" r="1.0" fill="#fff"/><circle cx="303.0" cy="132.4" r="1.0" fill="#fff"/><circle cx="299.9" cy="138.5" r="1.0" fill="#fff"/><circle cx="312.7" cy="138.2" r="1.0" fill="#fff"/><circle cx="310.1" cy="137.7" r="1.0" fill="#fff"/><circle cx="305.0" cy="137.1" r="1.0" fill="#fff"/><circle cx="298.7" cy="134.4" r="1.0" fill="#fff"/><circle cx="300.6" cy="137.3" r="1.0" fill="#fff"/><circle cx="301.5" cy="134.7" r="1.0" fill="#fff"/><circle cx="307.4" cy="139.3" r="1.0" fill="#fff"/><circle cx="300.2" cy="132.0" r="1.0" fill="#fff"/><circle cx="309.9" cy="131.5" r="1.0" fill="#fff"/><circle cx="307.7" cy="133.2" r="1.0" fill="#fff"/><circle cx="304.4" cy="129.2" r="1.0" fill="#fff"/><circle cx="309.3" cy="133.4" r="1.0" fill="#fff"/><circle cx="299.6" cy="141.6" r="1.0" fill="#fff"/><circle cx="309.3" cy="146.2" r="1.0" fill="#fff"/><circle cx="307.4" cy="133.9" r="1.0" fill="#fff"/><circle cx="305.6" cy="140.1" r="1.0" fill="#fff"/><circle cx="304.8" cy="136.4" r="1.0" fill="#fff"/><circle cx="308.1" cy="132.1" r="1.0" fill="#fff"/><circle cx="305.8" cy="133.4" r="1.0" fill="#fff"/><circle cx="297.5" cy="137.8" r="1.0" fill="#fff"/><circle cx="309.0" cy="135.2" r="1.0" fill="#fff"/><circle cx="299.6" cy="128.6" r="1.0" fill="#fff"/><circle cx="307.9" cy="134.7" r="1.0" fill="#fff"/><circle cx="294.9" cy="134.8" r="1.0" fill="#fff"/><circle cx="295.9" cy="134.9" r="1.0" fill="#fff"/><circle cx="305.9" cy="136.1" r="1.0" fill="#fff"/><circle cx="306.3" cy="135.5" r="1.0" fill="#fff"/><circle cx="298.2" cy="133.8" r="1.0" fill="#fff"/><circle cx="301.9" cy="134.2" r="1.0" fill="#fff"/><circle cx="306.6" cy="137.0" r="1.0" fill="#fff"/><circle cx="314.8" cy="126.8" r="1.0" fill="#fff"/><circle cx="307.4" cy="134.4" r="1.0" fill="#fff"/><circle cx="318.5" cy="135.8" r="1.0" fill="#222"/><circle cx="296.9" cy="134.2" r="1.0" fill="#222"/><circle cx="303.1" cy="136.0" r="1.0" fill="#222"/><circle cx="300.2" cy="132.7" r="1.0" fill="#222"/><circle cx="305.3" cy="132.7" r="1.0" fill="#222"/><circle cx="302.8" cy="127.5" r="1.0" fill="#222"/><circle cx="308.5" cy="136.0" r="1.0" fill="#222"/><circle cx="305.6" cy="129.9" r="1.0" fill="#222"/><circle cx="307.1" cy="134.7" r="1.0" fill="#222"/><circle cx="305.0" cy="133.0" r="1.0" fill="#222"/><circle cx="313.7" cy="129.6" r="1.0" fill="#222"/><circle cx="302.9" cy="127.3" r="1.0" fill="#222"/><circle cx="302.2" cy="130.8" r="1.0" fill="#222"/><circle cx="300.7" cy="130.9" r="1.0" fill="#222"/><circle cx="315.9" cy="132.4" r="1.0" fill="#222"/><circle cx="305.4" cy="139.6" r="1.0" fill="#222"/><circle cx="305.7" cy="127.8" r="1.0" fill="#222"/><circle cx="308.2" cy="130.2" r="1.0" fill="#222"/><circle cx="315.0" cy="129.3" r="1.0" fill="#222"/><circle cx="302.8" cy="128.2" r="1.0" fill="#222"/><circle cx="306.5" cy="130.0" r="1.0" fill="#222"/><circle cx="305.6" cy="131.9" r="1.0" fill="#222"/><circle cx="302.6" cy="135.8" r="1.0" fill="#222"/><circle cx="311.1" cy="133.2" r="1.0" fill="#222"/><circle cx="301.0" cy="129.8" r="1.0" fill="#222"/><circle cx="307.5" cy="140.2" r="1.0" fill="#222"/><circle cx="303.5" cy="130.6" r="1.0" fill="#222"/><circle cx="302.2" cy="129.7" r="1.0" fill="#222"/><circle cx="300.7" cy="132.4" r="1.0" fill="#222"/><circle cx="313.9" cy="133.0" r="1.0" fill="#222"/><circle cx="340.7" cy="112.3" r="1.0" fill="#fff"/><circle cx="342.5" cy="121.8" r="1.0" fill="#fff"/><circle cx="338.9" cy="115.5" r="1.0" fill="#fff"/><circle cx="341.9" cy="128.1" r="1.0" fill="#fff"/><circle cx="343.6" cy="123.2" r="1.0" fill="#fff"/><circle cx="341.2" cy="123.9" r="1.0" fill="#fff"/><circle cx="342.0" cy="135.0" r="1.0" fill="#fff"/><circle cx="339.2" cy="119.8" r="1.0" fill="#fff"/><circle cx="345.2" cy="120.4" r="1.0" fill="#fff"/><circle cx="345.6" cy="121.7" r="1.0" fill="#fff"/><circle cx="342.4" cy="119.8" r="1.0" fill="#fff"/><circle cx="338.5" cy="116.2" r="1.0" fill="#fff"/><circle cx="347.5" cy="125.9" r="1.0" fill="#fff"/><circle cx="343.5" cy="127.7" r="1.0" fill="#fff"/><circle cx="343.4" cy="128.1" r="1.0" fill="#fff"/><circle cx="341.3" cy="120.7" r="1.0" fill="#fff"/><circle cx="349.1" cy="113.9" r="1.0" fill="#fff"/><circle cx="342.4" cy="115.2" r="1.0" fill="#fff"/><circle cx="339.8" cy="113.0" r="1.0" fill="#fff"/><circle cx="344.5" cy="114.9" r="1.0" fill="#fff"/><circle cx="338.5" cy="116.0" r="1.0" fill="#fff"/><circle cx="338.7" cy="111.1" r="1.0" fill="#fff"/><circle cx="337.9" cy="111.3" r="1.0" fill="#fff"/><circle cx="336.5" cy="116.3" r="1.0" fill="#fff"/><circle cx="345.4" cy="153.7" r="1.0" fill="#fff"/><circle cx="337.2" cy="149.0" r="1.0" fill="#fff"/><circle cx="359.7" cy="151.7" r="1.0" fill="#fff"/><circle cx="357.7" cy="150.7" r="1.0" fill="#fff"/><circle cx="346.3" cy="145.7" r="1.0" fill="#fff"/><circle cx="341.8" cy="151.8" r="1.0" fill="#fff"/><circle cx="348.6" cy="154.0" r="1.0" fill="#fff"/><circle cx="347.2" cy="149.8" r="1.0" fill="#fff"/><circle cx="359.5" cy="152.1" r="1.0" fill="#fff"/><circle cx="338.8" cy="148.5" r="1.0" fill="#fff"/><circle cx="351.0" cy="149.7" r="1.0" fill="#fff"/><circle cx="337.2" cy="151.4" r="1.0" fill="#fff"/><circle cx="348.7" cy="152.5" r="1.0" fill="#fff"/><circle cx="352.0" cy="152.5" r="1.0" fill="#fff"/><circle cx="346.9" cy="150.8" r="1.0" fill="#fff"/><circle cx="346.1" cy="153.6" r="1.0" fill="#fff"/><circle cx="305.5" cy="162.5" r="1.1" fill="#222"/><circle cx="309.0" cy="170.5" r="1.1" fill="#222"/><circle cx="325.0" cy="112.0" r="1.1" fill="#222"/><circle cx="280.0" cy="98.0" r="1.1" fill="#333"/></g><g clip-path="url(#ccp)"><circle cx="542.6" cy="107.9" r="1.0" fill="#333"/><circle cx="534.2" cy="103.2" r="1.0" fill="#333"/><circle cx="539.1" cy="100.2" r="1.0" fill="#333"/><circle cx="546.4" cy="115.8" r="1.0" fill="#333"/><circle cx="526.8" cy="104.0" r="1.0" fill="#333"/><circle cx="577.7" cy="132.1" r="1.0" fill="#333"/><circle cx="524.1" cy="96.4" r="1.0" fill="#333"/><circle cx="543.6" cy="110.9" r="1.0" fill="#333"/><circle cx="530.3" cy="97.0" r="1.0" fill="#333"/><circle cx="538.8" cy="100.1" r="1.0" fill="#333"/><circle cx="525.5" cy="103.1" r="1.0" fill="#333"/><circle cx="536.1" cy="106.6" r="1.0" fill="#333"/><circle cx="561.1" cy="122.7" r="1.0" fill="#333"/><circle cx="560.2" cy="128.8" r="1.0" fill="#333"/><circle cx="548.1" cy="119.0" r="1.0" fill="#333"/><circle cx="521.6" cy="86.1" r="1.0" fill="#333"/><circle cx="570.3" cy="127.2" r="1.0" fill="#333"/><circle cx="538.1" cy="103.4" r="1.0" fill="#333"/><circle cx="528.4" cy="106.6" r="1.0" fill="#333"/><circle cx="550.8" cy="109.9" r="1.0" fill="#333"/><circle cx="525.8" cy="94.2" r="1.0" fill="#333"/><circle cx="549.9" cy="120.8" r="1.0" fill="#333"/><circle cx="542.5" cy="108.9" r="1.0" fill="#333"/><circle cx="554.0" cy="123.6" r="1.0" fill="#333"/><circle cx="523.2" cy="103.8" r="1.0" fill="#333"/><circle cx="560.4" cy="121.4" r="1.0" fill="#333"/><circle cx="531.7" cy="110.7" r="1.0" fill="#333"/><circle cx="559.5" cy="132.1" r="1.0" fill="#333"/><circle cx="534.9" cy="101.5" r="1.0" fill="#333"/><circle cx="531.7" cy="93.4" r="1.0" fill="#333"/><circle cx="521.4" cy="106.8" r="1.0" fill="#333"/><circle cx="539.8" cy="110.3" r="1.0" fill="#333"/><circle cx="513.6" cy="89.6" r="1.0" fill="#333"/><circle cx="572.8" cy="131.9" r="1.0" fill="#333"/><circle cx="541.0" cy="99.8" r="1.0" fill="#333"/><circle cx="556.0" cy="125.8" r="1.0" fill="#333"/><circle cx="544.1" cy="111.4" r="1.0" fill="#333"/><circle cx="573.6" cy="128.4" r="1.0" fill="#333"/><circle cx="540.0" cy="105.0" r="1.0" fill="#333"/><circle cx="563.4" cy="129.4" r="1.0" fill="#333"/><circle cx="559.6" cy="126.0" r="1.0" fill="#333"/><circle cx="532.1" cy="99.6" r="1.0" fill="#333"/><circle cx="532.8" cy="99.1" r="1.0" fill="#333"/><circle cx="521.7" cy="111.7" r="1.0" fill="#333"/><circle cx="543.2" cy="109.1" r="1.0" fill="#333"/><circle cx="572.4" cy="125.5" r="1.0" fill="#333"/><circle cx="559.8" cy="112.9" r="1.0" fill="#333"/><circle cx="549.4" cy="121.6" r="1.0" fill="#333"/><circle cx="559.4" cy="122.7" r="1.0" fill="#333"/><circle cx="566.3" cy="117.1" r="1.0" fill="#333"/><circle cx="573.9" cy="125.2" r="1.0" fill="#333"/><circle cx="561.4" cy="126.4" r="1.0" fill="#333"/><circle cx="535.9" cy="120.8" r="1.0" fill="#333"/><circle cx="551.1" cy="119.6" r="1.0" fill="#333"/><circle cx="520.9" cy="100.6" r="1.0" fill="#333"/><circle cx="542.6" cy="116.5" r="1.0" fill="#333"/><circle cx="537.7" cy="106.5" r="1.0" fill="#333"/><circle cx="523.8" cy="108.2" r="1.0" fill="#333"/><circle cx="555.2" cy="114.0" r="1.0" fill="#333"/><circle cx="546.7" cy="111.5" r="1.0" fill="#333"/><circle cx="548.3" cy="119.8" r="1.0" fill="#333"/><circle cx="540.1" cy="114.0" r="1.0" fill="#333"/><circle cx="575.8" cy="130.3" r="1.0" fill="#333"/><circle cx="538.1" cy="112.6" r="1.0" fill="#333"/><circle cx="538.6" cy="102.6" r="1.0" fill="#333"/><circle cx="561.2" cy="126.5" r="1.0" fill="#333"/><circle cx="555.6" cy="115.5" r="1.0" fill="#333"/><circle cx="551.7" cy="106.2" r="1.0" fill="#333"/><circle cx="525.6" cy="103.7" r="1.0" fill="#333"/><circle cx="539.1" cy="104.9" r="1.0" fill="#333"/><circle cx="565.4" cy="128.6" r="1.0" fill="#333"/><circle cx="539.7" cy="105.5" r="1.0" fill="#333"/><circle cx="545.2" cy="118.3" r="1.0" fill="#333"/><circle cx="530.0" cy="108.8" r="1.0" fill="#333"/><circle cx="543.7" cy="109.1" r="1.0" fill="#333"/><circle cx="543.1" cy="105.1" r="1.0" fill="#333"/><circle cx="549.7" cy="103.6" r="1.0" fill="#333"/><circle cx="543.7" cy="114.0" r="1.0" fill="#333"/><circle cx="559.0" cy="121.1" r="1.0" fill="#333"/><circle cx="540.6" cy="109.4" r="1.0" fill="#333"/><circle cx="539.6" cy="115.2" r="1.0" fill="#333"/><circle cx="543.8" cy="108.7" r="1.0" fill="#333"/><circle cx="532.3" cy="118.3" r="1.0" fill="#333"/><circle cx="558.2" cy="118.9" r="1.0" fill="#333"/><circle cx="569.5" cy="123.4" r="1.0" fill="#333"/><circle cx="559.3" cy="125.5" r="1.0" fill="#333"/><circle cx="568.7" cy="124.4" r="1.0" fill="#333"/><circle cx="572.0" cy="128.6" r="1.0" fill="#333"/><circle cx="524.1" cy="101.1" r="1.0" fill="#333"/><circle cx="558.3" cy="125.4" r="1.0" fill="#333"/><circle cx="527.8" cy="113.5" r="1.0" fill="#333"/><circle cx="559.6" cy="123.2" r="1.0" fill="#333"/><circle cx="544.1" cy="118.2" r="1.0" fill="#333"/><circle cx="557.7" cy="114.5" r="1.0" fill="#333"/><circle cx="548.1" cy="121.1" r="1.0" fill="#333"/><circle cx="537.0" cy="114.3" r="1.0" fill="#333"/><circle cx="557.2" cy="133.5" r="1.0" fill="#333"/><circle cx="552.3" cy="108.7" r="1.0" fill="#333"/><circle cx="569.6" cy="125.7" r="1.0" fill="#333"/><circle cx="536.6" cy="106.6" r="1.0" fill="#333"/><circle cx="566.9" cy="127.8" r="1.0" fill="#333"/><circle cx="529.1" cy="102.5" r="1.0" fill="#333"/><circle cx="522.4" cy="100.7" r="1.0" fill="#333"/><circle cx="547.9" cy="112.7" r="1.0" fill="#333"/><circle cx="571.7" cy="118.4" r="1.0" fill="#333"/><circle cx="525.0" cy="110.3" r="1.0" fill="#333"/><circle cx="549.0" cy="122.3" r="1.0" fill="#333"/><circle cx="539.8" cy="111.2" r="1.0" fill="#333"/><circle cx="540.4" cy="109.8" r="1.0" fill="#333"/><circle cx="580.0" cy="129.7" r="1.0" fill="#333"/><circle cx="567.8" cy="132.9" r="1.0" fill="#333"/><circle cx="564.0" cy="125.0" r="1.0" fill="#333"/><circle cx="523.4" cy="104.1" r="1.0" fill="#333"/><circle cx="563.9" cy="115.4" r="1.0" fill="#333"/><circle cx="532.3" cy="116.3" r="1.0" fill="#333"/><circle cx="570.2" cy="132.0" r="1.0" fill="#333"/><circle cx="549.9" cy="118.2" r="1.0" fill="#333"/><circle cx="528.8" cy="110.4" r="1.0" fill="#333"/><circle cx="516.7" cy="99.2" r="1.0" fill="#333"/><circle cx="560.7" cy="128.5" r="1.0" fill="#333"/><circle cx="526.7" cy="94.4" r="1.0" fill="#333"/><circle cx="524.6" cy="101.9" r="1.0" fill="#333"/><circle cx="548.9" cy="120.6" r="1.0" fill="#333"/><circle cx="544.9" cy="110.0" r="1.0" fill="#333"/><circle cx="545.1" cy="115.9" r="1.0" fill="#333"/><circle cx="544.0" cy="115.8" r="1.0" fill="#333"/><circle cx="534.2" cy="120.0" r="1.0" fill="#333"/><circle cx="533.8" cy="114.5" r="1.0" fill="#333"/><circle cx="535.5" cy="110.8" r="1.0" fill="#333"/><circle cx="524.7" cy="98.5" r="1.0" fill="#333"/><circle cx="540.6" cy="92.5" r="1.0" fill="#333"/><circle cx="559.6" cy="125.6" r="1.0" fill="#333"/><circle cx="538.7" cy="104.5" r="1.0" fill="#333"/><circle cx="527.6" cy="99.2" r="1.0" fill="#333"/><circle cx="540.1" cy="119.7" r="1.0" fill="#333"/><circle cx="550.4" cy="111.7" r="1.0" fill="#333"/><circle cx="541.2" cy="119.9" r="1.0" fill="#333"/><circle cx="561.5" cy="129.6" r="1.0" fill="#333"/><circle cx="552.4" cy="122.6" r="1.0" fill="#333"/><circle cx="553.0" cy="114.4" r="1.0" fill="#333"/><circle cx="576.5" cy="136.8" r="1.0" fill="#fff"/><circle cx="585.2" cy="131.5" r="1.0" fill="#fff"/><circle cx="564.9" cy="142.7" r="1.0" fill="#fff"/><circle cx="579.8" cy="134.7" r="1.0" fill="#fff"/><circle cx="580.2" cy="132.4" r="1.0" fill="#fff"/><circle cx="575.2" cy="138.8" r="1.0" fill="#fff"/><circle cx="575.3" cy="136.7" r="1.0" fill="#fff"/><circle cx="579.8" cy="136.6" r="1.0" fill="#fff"/><circle cx="575.8" cy="138.2" r="1.0" fill="#fff"/><circle cx="585.2" cy="141.2" r="1.0" fill="#fff"/><circle cx="571.9" cy="139.2" r="1.0" fill="#fff"/><circle cx="565.8" cy="130.5" r="1.0" fill="#fff"/><circle cx="579.6" cy="138.3" r="1.0" fill="#fff"/><circle cx="585.4" cy="129.3" r="1.0" fill="#fff"/><circle cx="583.7" cy="134.0" r="1.0" fill="#fff"/><circle cx="574.4" cy="137.9" r="1.0" fill="#fff"/><circle cx="585.6" cy="132.4" r="1.0" fill="#fff"/><circle cx="566.9" cy="133.7" r="1.0" fill="#fff"/><circle cx="576.5" cy="140.9" r="1.0" fill="#fff"/><circle cx="579.4" cy="134.9" r="1.0" fill="#fff"/><circle cx="574.2" cy="134.3" r="1.0" fill="#fff"/><circle cx="583.0" cy="129.5" r="1.0" fill="#fff"/><circle cx="573.0" cy="132.6" r="1.0" fill="#fff"/><circle cx="583.9" cy="136.6" r="1.0" fill="#fff"/><circle cx="573.2" cy="139.1" r="1.0" fill="#fff"/><circle cx="588.9" cy="140.2" r="1.0" fill="#fff"/><circle cx="569.4" cy="135.3" r="1.0" fill="#fff"/><circle cx="584.0" cy="128.9" r="1.0" fill="#fff"/><circle cx="569.8" cy="134.5" r="1.0" fill="#fff"/><circle cx="580.3" cy="132.8" r="1.0" fill="#fff"/><circle cx="578.1" cy="135.5" r="1.0" fill="#fff"/><circle cx="579.1" cy="131.3" r="1.0" fill="#fff"/><circle cx="563.9" cy="127.5" r="1.0" fill="#fff"/><circle cx="578.2" cy="140.0" r="1.0" fill="#fff"/><circle cx="580.0" cy="129.7" r="1.0" fill="#fff"/><circle cx="566.7" cy="134.9" r="1.0" fill="#fff"/><circle cx="571.7" cy="128.8" r="1.0" fill="#fff"/><circle cx="573.7" cy="132.9" r="1.0" fill="#fff"/><circle cx="576.4" cy="137.6" r="1.0" fill="#fff"/><circle cx="578.3" cy="136.8" r="1.0" fill="#fff"/><circle cx="580.3" cy="135.7" r="1.0" fill="#fff"/><circle cx="574.4" cy="134.7" r="1.0" fill="#fff"/><circle cx="584.2" cy="135.0" r="1.0" fill="#fff"/><circle cx="582.0" cy="142.7" r="1.0" fill="#fff"/><circle cx="587.6" cy="127.5" r="1.0" fill="#fff"/><circle cx="578.0" cy="140.0" r="1.0" fill="#fff"/><circle cx="574.4" cy="133.2" r="1.0" fill="#fff"/><circle cx="568.5" cy="133.4" r="1.0" fill="#fff"/><circle cx="577.1" cy="128.5" r="1.0" fill="#fff"/><circle cx="577.0" cy="132.7" r="1.0" fill="#fff"/><circle cx="577.2" cy="131.7" r="1.0" fill="#fff"/><circle cx="577.6" cy="136.7" r="1.0" fill="#fff"/><circle cx="572.9" cy="133.4" r="1.0" fill="#fff"/><circle cx="582.8" cy="138.6" r="1.0" fill="#fff"/><circle cx="572.4" cy="137.8" r="1.0" fill="#fff"/><circle cx="570.2" cy="134.0" r="1.0" fill="#fff"/><circle cx="559.6" cy="133.8" r="1.0" fill="#fff"/><circle cx="581.2" cy="134.1" r="1.0" fill="#fff"/><circle cx="580.6" cy="133.5" r="1.0" fill="#fff"/><circle cx="578.9" cy="135.5" r="1.0" fill="#fff"/><circle cx="571.2" cy="144.4" r="1.0" fill="#fff"/><circle cx="572.0" cy="130.7" r="1.0" fill="#fff"/><circle cx="577.9" cy="138.0" r="1.0" fill="#fff"/><circle cx="579.1" cy="135.6" r="1.0" fill="#fff"/><circle cx="579.9" cy="139.8" r="1.0" fill="#fff"/><circle cx="580.8" cy="130.5" r="1.0" fill="#fff"/><circle cx="587.4" cy="135.9" r="1.0" fill="#fff"/><circle cx="564.8" cy="139.4" r="1.0" fill="#fff"/><circle cx="576.2" cy="137.2" r="1.0" fill="#fff"/><circle cx="589.0" cy="133.9" r="1.0" fill="#fff"/><circle cx="576.3" cy="129.2" r="1.0" fill="#333"/><circle cx="581.2" cy="137.4" r="1.0" fill="#333"/><circle cx="582.4" cy="134.9" r="1.0" fill="#333"/><circle cx="567.3" cy="135.4" r="1.0" fill="#333"/><circle cx="586.6" cy="131.5" r="1.0" fill="#333"/><circle cx="576.9" cy="129.0" r="1.0" fill="#333"/><circle cx="581.5" cy="126.3" r="1.0" fill="#333"/><circle cx="591.5" cy="133.1" r="1.0" fill="#333"/><circle cx="576.5" cy="128.0" r="1.0" fill="#333"/><circle cx="583.3" cy="138.9" r="1.0" fill="#333"/><circle cx="576.7" cy="134.9" r="1.0" fill="#333"/><circle cx="581.8" cy="138.9" r="1.0" fill="#333"/><circle cx="583.8" cy="140.2" r="1.0" fill="#333"/><circle cx="571.6" cy="147.1" r="1.0" fill="#333"/><circle cx="577.1" cy="128.5" r="1.0" fill="#333"/><circle cx="574.5" cy="136.0" r="1.0" fill="#333"/><circle cx="584.7" cy="146.2" r="1.0" fill="#333"/><circle cx="587.4" cy="130.3" r="1.0" fill="#333"/><circle cx="578.0" cy="131.7" r="1.0" fill="#333"/><circle cx="576.5" cy="133.2" r="1.0" fill="#333"/><circle cx="576.4" cy="139.9" r="1.0" fill="#333"/><circle cx="582.1" cy="137.2" r="1.0" fill="#333"/><circle cx="579.2" cy="128.3" r="1.0" fill="#333"/><circle cx="582.7" cy="132.1" r="1.0" fill="#333"/><circle cx="592.0" cy="140.2" r="1.0" fill="#333"/><circle cx="572.8" cy="129.1" r="1.0" fill="#333"/><circle cx="576.8" cy="133.0" r="1.0" fill="#333"/><circle cx="587.0" cy="133.2" r="1.0" fill="#333"/><circle cx="582.8" cy="132.5" r="1.0" fill="#333"/><circle cx="578.8" cy="140.2" r="1.0" fill="#333"/><circle cx="590.2" cy="131.2" r="1.0" fill="#fff"/><circle cx="590.5" cy="110.1" r="1.0" fill="#fff"/><circle cx="588.4" cy="115.3" r="1.0" fill="#fff"/><circle cx="604.9" cy="131.7" r="1.0" fill="#fff"/><circle cx="599.1" cy="119.5" r="1.0" fill="#fff"/><circle cx="585.9" cy="130.5" r="1.0" fill="#fff"/><circle cx="587.6" cy="113.4" r="1.0" fill="#fff"/><circle cx="594.1" cy="131.3" r="1.0" fill="#fff"/><circle cx="588.8" cy="109.7" r="1.0" fill="#fff"/><circle cx="604.1" cy="108.2" r="1.0" fill="#fff"/><circle cx="600.4" cy="111.8" r="1.0" fill="#fff"/><circle cx="591.3" cy="113.6" r="1.0" fill="#fff"/><circle cx="594.2" cy="132.9" r="1.0" fill="#fff"/><circle cx="602.6" cy="122.5" r="1.0" fill="#fff"/><circle cx="586.8" cy="109.7" r="1.0" fill="#333"/><circle cx="590.9" cy="126.4" r="1.0" fill="#333"/><circle cx="603.3" cy="105.7" r="1.0" fill="#333"/><circle cx="591.7" cy="130.9" r="1.0" fill="#333"/><circle cx="588.0" cy="107.2" r="1.0" fill="#333"/><circle cx="590.3" cy="129.0" r="1.0" fill="#333"/><circle cx="590.3" cy="124.5" r="1.0" fill="#333"/><circle cx="587.4" cy="122.8" r="1.0" fill="#333"/><circle cx="588.4" cy="121.1" r="1.0" fill="#333"/><circle cx="599.8" cy="128.7" r="1.0" fill="#333"/><circle cx="593.7" cy="131.6" r="1.0" fill="#333"/><circle cx="593.1" cy="130.6" r="1.0" fill="#333"/><circle cx="568.0" cy="159.0" r="1.1" fill="#333"/><circle cx="514.5" cy="103.5" r="1.1" fill="#333"/></g><g clip-path="url(#cdp)"><circle cx="279.3" cy="325.5" r="1.1" fill="#2e2a2a"/><circle cx="294.6" cy="329.9" r="1.1" fill="#2e2a2a"/><circle cx="276.7" cy="313.2" r="1.1" fill="#2e2a2a"/><circle cx="275.3" cy="313.1" r="1.1" fill="#2e2a2a"/><circle cx="296.4" cy="310.5" r="1.1" fill="#2e2a2a"/><circle cx="289.1" cy="312.8" r="1.1" fill="#2e2a2a"/><circle cx="280.6" cy="318.7" r="1.1" fill="#2e2a2a"/><circle cx="300.2" cy="323.4" r="1.1" fill="#2e2a2a"/><circle cx="270.5" cy="314.4" r="1.1" fill="#2e2a2a"/><circle cx="275.3" cy="330.5" r="1.1" fill="#2e2a2a"/><circle cx="299.2" cy="328.8" r="1.1" fill="#2e2a2a"/><circle cx="299.7" cy="327.1" r="1.1" fill="#2e2a2a"/><circle cx="304.2" cy="328.4" r="1.1" fill="#2e2a2a"/><circle cx="279.2" cy="329.9" r="1.1" fill="#2e2a2a"/><circle cx="287.5" cy="327.4" r="1.1" fill="#2e2a2a"/><circle cx="290.3" cy="318.6" r="1.1" fill="#2e2a2a"/><circle cx="283.1" cy="318.6" r="1.1" fill="#2e2a2a"/><circle cx="281.3" cy="310.2" r="1.1" fill="#2e2a2a"/><circle cx="299.5" cy="328.6" r="1.1" fill="#2e2a2a"/><circle cx="305.5" cy="325.7" r="1.1" fill="#2e2a2a"/><circle cx="290.0" cy="327.2" r="1.1" fill="#2e2a2a"/><circle cx="274.9" cy="325.3" r="1.1" fill="#2e2a2a"/><circle cx="286.0" cy="311.8" r="1.1" fill="#2e2a2a"/><circle cx="277.3" cy="321.1" r="1.1" fill="#2e2a2a"/><circle cx="279.1" cy="319.4" r="1.1" fill="#2e2a2a"/><circle cx="291.8" cy="317.7" r="1.1" fill="#2e2a2a"/><circle cx="274.7" cy="320.3" r="1.1" fill="#2e2a2a"/><circle cx="278.5" cy="313.4" r="1.1" fill="#2e2a2a"/><circle cx="277.0" cy="316.9" r="1.1" fill="#2e2a2a"/><circle cx="272.6" cy="324.6" r="1.1" fill="#2e2a2a"/><circle cx="304.3" cy="317.5" r="1.1" fill="#2e2a2a"/><circle cx="295.9" cy="332.2" r="1.1" fill="#2e2a2a"/><circle cx="271.6" cy="310.8" r="1.1" fill="#2e2a2a"/><circle cx="299.0" cy="329.6" r="1.1" fill="#2e2a2a"/><circle cx="293.0" cy="311.3" r="1.1" fill="#2e2a2a"/><circle cx="284.9" cy="330.4" r="1.1" fill="#2e2a2a"/><circle cx="301.9" cy="328.7" r="1.1" fill="#2e2a2a"/><circle cx="277.3" cy="330.0" r="1.1" fill="#2e2a2a"/><circle cx="296.3" cy="338.0" r="1.25" fill="#3a3030"/><circle cx="313.4" cy="341.3" r="1.25" fill="#3a3030"/><circle cx="295.4" cy="330.5" r="1.25" fill="#3a3030"/><circle cx="305.0" cy="338.8" r="1.25" fill="#3a3030"/><circle cx="296.0" cy="331.7" r="1.25" fill="#3a3030"/><circle cx="296.9" cy="338.5" r="1.25" fill="#3a3030"/><circle cx="300.3" cy="336.5" r="1.25" fill="#3a3030"/><circle cx="307.7" cy="338.7" r="1.25" fill="#3a3030"/><circle cx="306.3" cy="335.7" r="1.25" fill="#3a3030"/><circle cx="310.8" cy="336.2" r="1.25" fill="#3a3030"/><circle cx="296.0" cy="332.4" r="1.25" fill="#3a3030"/><circle cx="309.3" cy="334.9" r="1.25" fill="#3a3030"/><circle cx="301.5" cy="335.3" r="1.25" fill="#3a3030"/><circle cx="324.1" cy="334.2" r="1.25" fill="#3a3030"/><circle cx="306.7" cy="336.1" r="1.25" fill="#3a3030"/><circle cx="302.0" cy="338.8" r="1.25" fill="#3a3030"/><circle cx="309.0" cy="335.9" r="1.25" fill="#3a3030"/><circle cx="295.4" cy="339.1" r="1.25" fill="#3a3030"/><circle cx="308.4" cy="334.1" r="1.25" fill="#3a3030"/><circle cx="287.1" cy="334.2" r="1.25" fill="#3a3030"/><circle cx="296.2" cy="333.6" r="1.25" fill="#3a3030"/><circle cx="300.6" cy="331.4" r="1.25" fill="#3a3030"/><circle cx="309.9" cy="334.8" r="1.25" fill="#3a3030"/><circle cx="311.3" cy="330.9" r="1.25" fill="#3a3030"/><circle cx="302.5" cy="339.5" r="1.25" fill="#3a3030"/><circle cx="305.7" cy="331.7" r="1.25" fill="#3a3030"/><circle cx="298.2" cy="332.2" r="1.25" fill="#3a3030"/><circle cx="303.2" cy="337.0" r="1.25" fill="#3a3030"/><circle cx="304.6" cy="337.2" r="1.25" fill="#3a3030"/><circle cx="308.9" cy="334.9" r="1.25" fill="#3a3030"/><circle cx="311.6" cy="337.1" r="1.25" fill="#3a3030"/><circle cx="302.6" cy="333.8" r="1.25" fill="#3a3030"/><circle cx="303.6" cy="331.7" r="1.25" fill="#3a3030"/><circle cx="295.4" cy="334.6" r="1.25" fill="#3a3030"/><circle cx="300.5" cy="336.6" r="1.25" fill="#3a3030"/><circle cx="300.0" cy="334.8" r="1.25" fill="#3a3030"/><circle cx="304.9" cy="332.7" r="1.25" fill="#3a3030"/><circle cx="304.9" cy="331.7" r="1.25" fill="#3a3030"/><circle cx="301.0" cy="337.4" r="1.25" fill="#3a3030"/><circle cx="306.1" cy="334.4" r="1.25" fill="#3a3030"/><circle cx="298.8" cy="337.0" r="1.25" fill="#3a3030"/><circle cx="316.0" cy="326.4" r="1.25" fill="#3a3030"/><circle cx="310.1" cy="335.2" r="1.25" fill="#3a3030"/><circle cx="310.4" cy="338.7" r="1.25" fill="#3a3030"/><circle cx="297.4" cy="340.8" r="1.25" fill="#3a3030"/><circle cx="300.0" cy="333.5" r="1.25" fill="#3a3030"/><circle cx="307.5" cy="334.1" r="1.25" fill="#3a3030"/><circle cx="305.3" cy="332.5" r="1.25" fill="#3a3030"/><circle cx="297.3" cy="334.5" r="1.25" fill="#3a3030"/><circle cx="296.9" cy="339.4" r="1.25" fill="#3a3030"/><circle cx="305.2" cy="339.6" r="1.25" fill="#3a3030"/><circle cx="296.0" cy="326.7" r="1.25" fill="#3a3030"/><circle cx="289.6" cy="333.0" r="1.25" fill="#3a3030"/><circle cx="295.7" cy="335.7" r="1.25" fill="#3a3030"/><circle cx="294.7" cy="329.3" r="1.25" fill="#3a3030"/><circle cx="305.4" cy="332.9" r="1.25" fill="#3a3030"/><circle cx="307.8" cy="337.4" r="1.25" fill="#3a3030"/><circle cx="305.8" cy="329.9" r="1.25" fill="#3a3030"/><circle cx="298.3" cy="342.8" r="1.25" fill="#3a3030"/><circle cx="302.2" cy="335.5" r="1.25" fill="#3a3030"/><circle cx="304.4" cy="334.3" r="1.25" fill="#3a3030"/><circle cx="302.6" cy="332.3" r="1.25" fill="#3a3030"/><circle cx="300.5" cy="326.9" r="1.25" fill="#3a3030"/><circle cx="313.9" cy="334.0" r="1.25" fill="#3a3030"/><circle cx="295.6" cy="336.3" r="1.25" fill="#3a3030"/><circle cx="307.8" cy="329.1" r="1.25" fill="#3a3030"/><circle cx="300.4" cy="339.9" r="1.25" fill="#3a3030"/><circle cx="307.0" cy="336.0" r="1.25" fill="#3a3030"/><circle cx="309.8" cy="333.9" r="1.25" fill="#3a3030"/><circle cx="301.8" cy="340.3" r="1.25" fill="#3a3030"/><circle cx="302.5" cy="334.1" r="1.25" fill="#3a3030"/><circle cx="307.6" cy="334.5" r="1.25" fill="#3a3030"/><circle cx="296.0" cy="341.4" r="1.25" fill="#3a3030"/><circle cx="303.2" cy="341.0" r="1.25" fill="#3a3030"/><circle cx="306.8" cy="331.0" r="1.25" fill="#3a3030"/><circle cx="313.2" cy="333.7" r="1.25" fill="#3a3030"/><circle cx="298.4" cy="334.3" r="1.25" fill="#3a3030"/><circle cx="290.5" cy="335.9" r="1.25" fill="#3a3030"/><circle cx="299.2" cy="333.5" r="1.25" fill="#3a3030"/><circle cx="298.2" cy="336.9" r="1.25" fill="#3a3030"/><circle cx="305.8" cy="338.4" r="1.25" fill="#3a3030"/><circle cx="313.9" cy="335.4" r="1.25" fill="#3a3030"/><circle cx="304.2" cy="335.5" r="1.25" fill="#3a3030"/><circle cx="298.6" cy="332.4" r="1.25" fill="#3a3030"/><circle cx="308.3" cy="331.2" r="1.25" fill="#3a3030"/><circle cx="291.7" cy="333.1" r="1.25" fill="#3a3030"/><circle cx="305.2" cy="339.8" r="1.25" fill="#3a3030"/><circle cx="299.2" cy="330.9" r="1.25" fill="#3a3030"/><circle cx="304.2" cy="333.8" r="1.25" fill="#3a3030"/><circle cx="305.2" cy="332.5" r="1.25" fill="#3a3030"/><circle cx="304.9" cy="332.2" r="1.25" fill="#3a3030"/><circle cx="309.7" cy="335.4" r="1.25" fill="#3a3030"/><circle cx="307.1" cy="332.8" r="1.25" fill="#3a3030"/><circle cx="294.8" cy="334.4" r="1.25" fill="#3a3030"/><circle cx="303.3" cy="338.4" r="1.25" fill="#3a3030"/><circle cx="309.5" cy="334.2" r="1.25" fill="#3a3030"/><circle cx="303.3" cy="330.7" r="1.25" fill="#3a3030"/><circle cx="303.4" cy="335.1" r="1.25" fill="#3a3030"/><circle cx="301.1" cy="330.4" r="1.25" fill="#3a3030"/><circle cx="311.5" cy="331.0" r="1.25" fill="#3a3030"/><circle cx="313.7" cy="338.7" r="1.25" fill="#3a3030"/><circle cx="313.1" cy="331.2" r="1.25" fill="#3a3030"/><circle cx="307.4" cy="329.3" r="1.25" fill="#3a3030"/><circle cx="301.4" cy="328.7" r="1.25" fill="#3a3030"/><circle cx="299.1" cy="332.5" r="1.25" fill="#3a3030"/><circle cx="309.5" cy="338.3" r="1.25" fill="#3a3030"/><circle cx="301.3" cy="333.3" r="1.25" fill="#3a3030"/><circle cx="297.8" cy="330.2" r="1.25" fill="#3a3030"/><circle cx="292.7" cy="333.5" r="1.25" fill="#3a3030"/><circle cx="307.2" cy="331.5" r="1.25" fill="#3a3030"/><circle cx="307.8" cy="332.1" r="1.25" fill="#7c7878"/><circle cx="299.4" cy="334.4" r="1.25" fill="#7c7878"/><circle cx="310.9" cy="334.4" r="1.25" fill="#7c7878"/><circle cx="310.2" cy="335.0" r="1.25" fill="#7c7878"/><circle cx="298.8" cy="329.0" r="1.25" fill="#7c7878"/><circle cx="302.6" cy="332.8" r="1.25" fill="#7c7878"/><circle cx="311.0" cy="337.9" r="1.25" fill="#7c7878"/><circle cx="295.6" cy="339.4" r="1.25" fill="#7c7878"/><circle cx="308.8" cy="325.7" r="1.25" fill="#7c7878"/><circle cx="299.2" cy="337.2" r="1.25" fill="#7c7878"/><circle cx="295.8" cy="333.6" r="1.25" fill="#7c7878"/><circle cx="308.7" cy="337.2" r="1.25" fill="#7c7878"/><circle cx="308.2" cy="338.5" r="1.25" fill="#7c7878"/><circle cx="300.1" cy="345.0" r="1.25" fill="#7c7878"/><circle cx="308.7" cy="344.1" r="1.25" fill="#7c7878"/><circle cx="303.9" cy="338.3" r="1.25" fill="#7c7878"/><circle cx="307.6" cy="335.8" r="1.25" fill="#7c7878"/><circle cx="307.4" cy="337.2" r="1.25" fill="#7c7878"/><circle cx="310.4" cy="337.5" r="1.25" fill="#7c7878"/><circle cx="305.8" cy="338.1" r="1.25" fill="#7c7878"/><circle cx="314.2" cy="336.5" r="1.25" fill="#7c7878"/><circle cx="309.1" cy="336.8" r="1.25" fill="#7c7878"/><circle cx="293.6" cy="333.0" r="1.25" fill="#7c7878"/><circle cx="299.9" cy="331.2" r="1.25" fill="#7c7878"/><circle cx="301.7" cy="329.9" r="1.25" fill="#7c7878"/><circle cx="307.1" cy="334.3" r="1.25" fill="#7c7878"/><circle cx="312.9" cy="337.7" r="1.25" fill="#7c7878"/><circle cx="297.8" cy="335.5" r="1.25" fill="#7c7878"/><circle cx="305.7" cy="333.8" r="1.25" fill="#7c7878"/><circle cx="303.3" cy="332.3" r="1.25" fill="#7c7878"/><circle cx="301.0" cy="337.3" r="1.25" fill="#7c7878"/><circle cx="303.4" cy="340.6" r="1.25" fill="#7c7878"/><circle cx="292.7" cy="333.4" r="1.25" fill="#7c7878"/><circle cx="303.2" cy="341.6" r="1.25" fill="#7c7878"/><circle cx="312.1" cy="339.0" r="1.25" fill="#7c7878"/><circle cx="311.3" cy="342.0" r="1.25" fill="#7c7878"/><circle cx="309.5" cy="335.4" r="1.25" fill="#7c7878"/><circle cx="306.5" cy="333.6" r="1.25" fill="#7c7878"/><circle cx="304.0" cy="337.6" r="1.25" fill="#7c7878"/><circle cx="302.4" cy="336.6" r="1.25" fill="#7c7878"/><circle cx="302.8" cy="331.5" r="1.25" fill="#7c7878"/><circle cx="296.7" cy="338.7" r="1.25" fill="#7c7878"/><circle cx="305.6" cy="339.2" r="1.25" fill="#7c7878"/><circle cx="304.7" cy="336.2" r="1.25" fill="#7c7878"/><circle cx="307.0" cy="335.0" r="1.25" fill="#7c7878"/><circle cx="313.6" cy="339.8" r="1.25" fill="#7c7878"/><circle cx="307.7" cy="332.4" r="1.25" fill="#7c7878"/><circle cx="302.1" cy="336.9" r="1.25" fill="#7c7878"/><circle cx="312.3" cy="336.0" r="1.25" fill="#7c7878"/><circle cx="305.1" cy="338.1" r="1.25" fill="#7c7878"/><circle cx="306.0" cy="335.6" r="1.25" fill="#7c7878"/><circle cx="298.5" cy="340.6" r="1.25" fill="#7c7878"/><circle cx="304.9" cy="334.3" r="1.25" fill="#7c7878"/><circle cx="304.6" cy="331.4" r="1.25" fill="#7c7878"/><circle cx="295.2" cy="329.7" r="1.25" fill="#7c7878"/><circle cx="307.4" cy="331.4" r="1.25" fill="#7c7878"/><circle cx="305.9" cy="331.8" r="1.25" fill="#7c7878"/><circle cx="294.5" cy="333.9" r="1.25" fill="#7c7878"/><circle cx="300.7" cy="333.6" r="1.25" fill="#7c7878"/><circle cx="315.5" cy="336.8" r="1.25" fill="#7c7878"/><circle cx="301.6" cy="339.2" r="1.25" fill="#7c7878"/><circle cx="303.2" cy="340.5" r="1.25" fill="#7c7878"/><circle cx="295.8" cy="340.0" r="1.25" fill="#7c7878"/><circle cx="298.6" cy="333.4" r="1.25" fill="#7c7878"/><circle cx="306.3" cy="332.2" r="1.25" fill="#7c7878"/><circle cx="295.3" cy="334.6" r="1.25" fill="#7c7878"/><circle cx="303.3" cy="330.1" r="1.25" fill="#7c7878"/><circle cx="310.9" cy="333.1" r="1.25" fill="#7c7878"/><circle cx="301.4" cy="335.2" r="1.25" fill="#7c7878"/><circle cx="305.4" cy="339.8" r="1.25" fill="#7c7878"/><circle cx="292.1" cy="336.1" r="1.25" fill="#7c7878"/><circle cx="310.4" cy="336.9" r="1.25" fill="#7c7878"/><circle cx="304.6" cy="332.0" r="1.25" fill="#7c7878"/><circle cx="307.1" cy="334.3" r="1.25" fill="#7c7878"/><circle cx="305.8" cy="332.2" r="1.25" fill="#7c7878"/><circle cx="303.1" cy="335.5" r="1.25" fill="#7c7878"/><circle cx="296.1" cy="339.7" r="1.25" fill="#7c7878"/><circle cx="304.3" cy="331.4" r="1.25" fill="#7c7878"/><circle cx="303.5" cy="336.5" r="1.25" fill="#7c7878"/><circle cx="303.0" cy="332.3" r="1.25" fill="#7c7878"/><circle cx="303.7" cy="331.1" r="1.25" fill="#7c7878"/><circle cx="295.0" cy="340.2" r="1.25" fill="#7c7878"/><circle cx="315.2" cy="342.7" r="1.25" fill="#7c7878"/><circle cx="318.6" cy="340.9" r="1.25" fill="#7c7878"/><circle cx="299.4" cy="334.0" r="1.25" fill="#7c7878"/><circle cx="311.6" cy="334.3" r="1.25" fill="#7c7878"/><circle cx="302.9" cy="335.9" r="1.25" fill="#7c7878"/><circle cx="307.5" cy="331.1" r="1.25" fill="#7c7878"/><circle cx="305.2" cy="337.8" r="1.25" fill="#7c7878"/><circle cx="292.7" cy="340.1" r="1.25" fill="#7c7878"/><circle cx="305.8" cy="330.6" r="1.2" fill="#2e2a2a"/><circle cx="311.2" cy="334.3" r="1.2" fill="#2e2a2a"/><circle cx="304.4" cy="337.6" r="1.2" fill="#2e2a2a"/><circle cx="289.1" cy="333.0" r="1.2" fill="#2e2a2a"/><circle cx="307.3" cy="337.3" r="1.2" fill="#2e2a2a"/><circle cx="301.8" cy="332.5" r="1.2" fill="#2e2a2a"/><circle cx="298.2" cy="332.0" r="1.2" fill="#2e2a2a"/><circle cx="297.7" cy="325.8" r="1.2" fill="#2e2a2a"/><circle cx="299.1" cy="330.0" r="1.2" fill="#2e2a2a"/><circle cx="299.0" cy="331.6" r="1.2" fill="#2e2a2a"/><circle cx="299.6" cy="333.3" r="1.2" fill="#2e2a2a"/><circle cx="301.7" cy="331.9" r="1.2" fill="#2e2a2a"/><circle cx="298.9" cy="332.7" r="1.2" fill="#2e2a2a"/><circle cx="300.4" cy="332.6" r="1.2" fill="#2e2a2a"/><circle cx="308.9" cy="333.7" r="1.2" fill="#2e2a2a"/><circle cx="300.0" cy="326.8" r="1.2" fill="#2e2a2a"/><circle cx="294.7" cy="324.1" r="1.2" fill="#2e2a2a"/><circle cx="306.4" cy="336.3" r="1.2" fill="#2e2a2a"/><circle cx="300.0" cy="331.6" r="1.2" fill="#2e2a2a"/><circle cx="304.4" cy="334.7" r="1.2" fill="#2e2a2a"/><circle cx="293.3" cy="332.2" r="1.2" fill="#2e2a2a"/><circle cx="300.4" cy="329.2" r="1.2" fill="#2e2a2a"/><circle cx="309.1" cy="335.2" r="1.2" fill="#2e2a2a"/><circle cx="299.0" cy="332.9" r="1.2" fill="#2e2a2a"/><circle cx="299.2" cy="331.5" r="1.2" fill="#2e2a2a"/><circle cx="300.0" cy="336.1" r="1.2" fill="#2e2a2a"/><circle cx="302.0" cy="331.6" r="1.2" fill="#2e2a2a"/><circle cx="298.6" cy="333.8" r="1.2" fill="#2e2a2a"/><circle cx="297.6" cy="328.1" r="1.2" fill="#2e2a2a"/><circle cx="301.3" cy="337.8" r="1.2" fill="#2e2a2a"/><circle cx="298.6" cy="333.5" r="1.2" fill="#2e2a2a"/><circle cx="301.0" cy="336.7" r="1.2" fill="#2e2a2a"/><circle cx="304.4" cy="329.2" r="1.2" fill="#2e2a2a"/><circle cx="310.7" cy="333.0" r="1.2" fill="#2e2a2a"/><circle cx="297.4" cy="331.5" r="1.2" fill="#2e2a2a"/><circle cx="302.3" cy="336.2" r="1.2" fill="#2e2a2a"/><circle cx="300.6" cy="330.8" r="1.2" fill="#2e2a2a"/><circle cx="308.6" cy="337.7" r="1.2" fill="#2e2a2a"/><circle cx="300.2" cy="333.4" r="1.2" fill="#2e2a2a"/><circle cx="303.9" cy="332.1" r="1.2" fill="#2e2a2a"/><circle cx="341.6" cy="325.3" r="1.1" fill="#888"/><circle cx="344.6" cy="329.3" r="1.1" fill="#888"/><circle cx="343.9" cy="328.9" r="1.1" fill="#888"/><circle cx="344.7" cy="321.9" r="1.1" fill="#888"/><circle cx="342.6" cy="326.2" r="1.1" fill="#888"/><circle cx="341.4" cy="330.3" r="1.1" fill="#888"/><circle cx="341.7" cy="319.9" r="1.1" fill="#888"/><circle cx="345.1" cy="329.1" r="1.1" fill="#888"/><circle cx="343.3" cy="328.9" r="1.1" fill="#888"/><circle cx="340.0" cy="324.1" r="1.1" fill="#888"/><circle cx="343.8" cy="323.8" r="1.1" fill="#888"/><circle cx="342.7" cy="315.3" r="1.1" fill="#888"/><circle cx="341.0" cy="318.8" r="1.1" fill="#888"/><circle cx="341.9" cy="327.8" r="1.1" fill="#888"/><circle cx="342.1" cy="317.3" r="1.1" fill="#888"/><circle cx="343.5" cy="323.8" r="1.1" fill="#888"/><circle cx="332.6" cy="308.5" r="1.1" fill="#888"/><circle cx="331.7" cy="317.7" r="1.1" fill="#888"/><circle cx="333.7" cy="314.8" r="1.1" fill="#888"/><circle cx="333.1" cy="308.7" r="1.1" fill="#888"/><circle cx="335.3" cy="310.1" r="1.1" fill="#888"/><circle cx="329.5" cy="314.2" r="1.1" fill="#888"/><circle cx="336.1" cy="308.1" r="1.1" fill="#888"/><circle cx="339.4" cy="308.2" r="1.1" fill="#888"/><circle cx="336.7" cy="347.3" r="1.1" fill="#888"/><circle cx="345.9" cy="352.1" r="1.1" fill="#888"/><circle cx="345.9" cy="345.0" r="1.1" fill="#888"/><circle cx="336.1" cy="350.9" r="1.1" fill="#888"/><circle cx="349.4" cy="350.1" r="1.1" fill="#888"/><circle cx="346.0" cy="349.4" r="1.1" fill="#888"/><circle cx="346.3" cy="348.3" r="1.1" fill="#888"/><circle cx="347.9" cy="347.7" r="1.1" fill="#888"/><circle cx="342.2" cy="349.2" r="1.1" fill="#888"/><circle cx="349.8" cy="349.9" r="1.1" fill="#888"/><circle cx="334.9" cy="349.4" r="1.1" fill="#888"/><circle cx="348.3" cy="350.8" r="1.1" fill="#888"/><circle cx="278.0" cy="302.0" r="1.2" fill="#2e2a2a"/><circle cx="285.0" cy="312.0" r="1.2" fill="#2e2a2a"/><circle cx="286.0" cy="313.5" r="1.2" fill="#2e2a2a"/><circle cx="328.0" cy="321.0" r="1.1" fill="#2e2a2a"/><circle cx="325.0" cy="315.0" r="1.1" fill="#2e2a2a"/><circle cx="310.0" cy="349.0" r="1.1" fill="#2e2a2a"/></g><g clip-path="url(#cep)"><circle cx="535.8" cy="299.9" r="1.1" fill="#333"/><circle cx="572.1" cy="335.1" r="1.1" fill="#333"/><circle cx="562.0" cy="322.6" r="1.1" fill="#333"/><circle cx="556.2" cy="328.1" r="1.1" fill="#333"/><circle cx="539.4" cy="314.3" r="1.1" fill="#333"/><circle cx="547.6" cy="320.7" r="1.1" fill="#333"/><circle cx="562.5" cy="326.3" r="1.1" fill="#333"/><circle cx="563.8" cy="328.2" r="1.1" fill="#333"/><circle cx="537.3" cy="307.4" r="1.1" fill="#333"/><circle cx="545.6" cy="308.0" r="1.1" fill="#333"/><circle cx="569.5" cy="335.8" r="1.1" fill="#333"/><circle cx="568.9" cy="328.1" r="1.1" fill="#333"/><circle cx="556.1" cy="319.0" r="1.1" fill="#333"/><circle cx="540.4" cy="301.6" r="1.1" fill="#333"/><circle cx="538.5" cy="309.0" r="1.1" fill="#333"/><circle cx="564.7" cy="327.5" r="1.1" fill="#333"/><circle cx="570.1" cy="329.9" r="1.1" fill="#333"/><circle cx="534.1" cy="300.9" r="1.1" fill="#333"/><circle cx="558.9" cy="321.3" r="1.1" fill="#333"/><circle cx="557.5" cy="323.0" r="1.1" fill="#333"/><circle cx="548.4" cy="319.6" r="1.1" fill="#333"/><circle cx="534.1" cy="305.5" r="1.1" fill="#333"/><circle cx="570.7" cy="329.1" r="1.1" fill="#333"/><circle cx="537.5" cy="301.6" r="1.1" fill="#333"/><circle cx="531.1" cy="293.4" r="1.1" fill="#333"/><circle cx="547.8" cy="319.8" r="1.1" fill="#333"/><circle cx="572.2" cy="335.4" r="1.1" fill="#333"/><circle cx="537.8" cy="304.8" r="1.1" fill="#333"/><circle cx="542.9" cy="310.9" r="1.1" fill="#333"/><circle cx="551.4" cy="311.4" r="1.1" fill="#333"/><circle cx="548.3" cy="309.6" r="1.1" fill="#333"/><circle cx="545.8" cy="310.5" r="1.1" fill="#333"/><circle cx="542.4" cy="316.4" r="1.1" fill="#333"/><circle cx="544.2" cy="315.9" r="1.1" fill="#333"/><circle cx="569.8" cy="337.9" r="1.1" fill="#333"/><circle cx="543.5" cy="311.8" r="1.1" fill="#333"/><circle cx="572.8" cy="327.4" r="1.1" fill="#333"/><circle cx="565.7" cy="331.9" r="1.1" fill="#333"/><circle cx="566.7" cy="330.8" r="1.1" fill="#333"/><circle cx="551.0" cy="309.3" r="1.1" fill="#333"/><circle cx="547.5" cy="308.1" r="1.1" fill="#333"/><circle cx="547.1" cy="314.7" r="1.1" fill="#333"/><circle cx="540.6" cy="306.4" r="1.1" fill="#333"/><circle cx="539.1" cy="311.9" r="1.1" fill="#333"/><circle cx="549.7" cy="311.2" r="1.1" fill="#333"/><circle cx="546.6" cy="314.7" r="1.1" fill="#333"/><circle cx="546.2" cy="314.2" r="1.1" fill="#333"/><circle cx="537.8" cy="304.2" r="1.1" fill="#333"/><circle cx="558.1" cy="319.6" r="1.1" fill="#333"/><circle cx="569.4" cy="327.6" r="1.1" fill="#333"/><circle cx="532.3" cy="305.2" r="1.1" fill="#333"/><circle cx="560.0" cy="313.8" r="1.1" fill="#333"/><circle cx="531.6" cy="295.5" r="1.1" fill="#333"/><circle cx="562.4" cy="323.9" r="1.1" fill="#333"/><circle cx="559.0" cy="314.6" r="1.1" fill="#333"/><circle cx="569.2" cy="327.9" r="1.1" fill="#333"/><circle cx="565.6" cy="329.4" r="1.1" fill="#333"/><circle cx="548.6" cy="313.9" r="1.1" fill="#333"/><circle cx="552.9" cy="311.8" r="1.1" fill="#333"/><circle cx="552.1" cy="329.1" r="1.1" fill="#333"/><circle cx="541.0" cy="304.7" r="1.1" fill="#333"/><circle cx="536.0" cy="302.0" r="1.1" fill="#333"/><circle cx="582.3" cy="329.9" r="1.1" fill="#333"/><circle cx="565.4" cy="332.0" r="1.1" fill="#333"/><circle cx="548.4" cy="312.7" r="1.1" fill="#333"/><circle cx="545.7" cy="304.4" r="1.1" fill="#333"/><circle cx="567.4" cy="323.6" r="1.1" fill="#333"/><circle cx="560.0" cy="331.7" r="1.1" fill="#333"/><circle cx="531.1" cy="306.2" r="1.1" fill="#333"/><circle cx="561.0" cy="330.2" r="1.1" fill="#333"/><circle cx="571.3" cy="334.3" r="1.1" fill="#333"/><circle cx="537.2" cy="299.5" r="1.1" fill="#333"/><circle cx="547.3" cy="314.2" r="1.1" fill="#333"/><circle cx="542.6" cy="312.2" r="1.1" fill="#333"/><circle cx="569.1" cy="331.2" r="1.1" fill="#333"/><circle cx="568.5" cy="329.4" r="1.1" fill="#333"/><circle cx="559.1" cy="318.3" r="1.1" fill="#333"/><circle cx="563.0" cy="328.1" r="1.1" fill="#333"/><circle cx="559.8" cy="321.4" r="1.1" fill="#333"/><circle cx="536.4" cy="312.3" r="1.1" fill="#333"/><circle cx="545.5" cy="311.6" r="1.1" fill="#333"/><circle cx="562.0" cy="330.0" r="1.1" fill="#333"/><circle cx="566.9" cy="330.8" r="1.1" fill="#333"/><circle cx="565.0" cy="328.2" r="1.1" fill="#333"/><circle cx="548.6" cy="308.0" r="1.1" fill="#333"/><circle cx="533.5" cy="306.1" r="1.1" fill="#333"/><circle cx="550.9" cy="314.7" r="1.1" fill="#333"/><circle cx="576.6" cy="339.1" r="1.1" fill="#333"/><circle cx="532.5" cy="302.7" r="1.1" fill="#333"/><circle cx="531.2" cy="301.6" r="1.1" fill="#333"/><circle cx="542.3" cy="314.5" r="1.1" fill="#333"/><circle cx="556.2" cy="324.4" r="1.1" fill="#333"/><circle cx="565.3" cy="328.0" r="1.1" fill="#333"/><circle cx="571.6" cy="328.2" r="1.1" fill="#333"/><circle cx="530.7" cy="310.5" r="1.1" fill="#333"/><circle cx="542.5" cy="314.2" r="1.1" fill="#333"/><circle cx="539.5" cy="303.3" r="1.1" fill="#333"/><circle cx="547.7" cy="313.3" r="1.1" fill="#333"/><circle cx="559.2" cy="329.4" r="1.1" fill="#333"/><circle cx="571.7" cy="329.9" r="1.1" fill="#333"/><circle cx="567.8" cy="333.6" r="1.1" fill="#333"/><circle cx="535.1" cy="307.0" r="1.1" fill="#333"/><circle cx="546.7" cy="313.6" r="1.1" fill="#333"/><circle cx="564.0" cy="324.2" r="1.1" fill="#333"/><circle cx="536.3" cy="302.8" r="1.1" fill="#333"/><circle cx="557.4" cy="328.4" r="1.1" fill="#333"/><circle cx="533.0" cy="306.2" r="1.1" fill="#333"/><circle cx="554.7" cy="316.7" r="1.1" fill="#333"/><circle cx="568.3" cy="339.7" r="1.1" fill="#333"/><circle cx="546.6" cy="317.2" r="1.1" fill="#333"/><circle cx="574.9" cy="327.6" r="1.1" fill="#333"/><circle cx="534.0" cy="303.5" r="1.1" fill="#333"/><circle cx="533.5" cy="306.1" r="1.1" fill="#333"/><circle cx="530.4" cy="304.8" r="1.1" fill="#333"/><circle cx="575.5" cy="329.5" r="1.1" fill="#333"/><circle cx="544.6" cy="306.8" r="1.1" fill="#333"/><circle cx="549.7" cy="308.4" r="1.1" fill="#333"/><circle cx="570.1" cy="323.3" r="1.1" fill="#333"/><circle cx="544.1" cy="305.2" r="1.1" fill="#333"/><circle cx="561.3" cy="327.1" r="1.1" fill="#333"/><circle cx="534.2" cy="310.1" r="1.1" fill="#333"/><circle cx="566.1" cy="308.0" r="1.1" fill="#333"/><circle cx="531.6" cy="329.6" r="1.1" fill="#333"/><circle cx="529.8" cy="312.0" r="1.1" fill="#333"/><circle cx="532.1" cy="312.8" r="1.1" fill="#333"/><circle cx="520.5" cy="334.1" r="1.1" fill="#333"/><circle cx="551.6" cy="316.0" r="1.1" fill="#333"/><circle cx="563.2" cy="326.5" r="1.1" fill="#333"/><circle cx="530.6" cy="343.5" r="1.1" fill="#333"/><circle cx="531.0" cy="337.0" r="1.1" fill="#333"/><circle cx="559.2" cy="303.1" r="1.1" fill="#333"/><circle cx="560.7" cy="320.7" r="1.1" fill="#333"/><circle cx="544.1" cy="342.7" r="1.1" fill="#333"/><circle cx="541.7" cy="313.1" r="1.1" fill="#333"/><circle cx="522.4" cy="340.2" r="1.1" fill="#333"/><circle cx="541.8" cy="332.9" r="1.1" fill="#333"/><circle cx="550.8" cy="344.2" r="1.1" fill="#333"/><circle cx="564.9" cy="342.3" r="1.1" fill="#333"/><circle cx="544.2" cy="341.2" r="1.1" fill="#333"/><circle cx="534.7" cy="308.2" r="1.1" fill="#333"/><circle cx="550.7" cy="304.2" r="1.1" fill="#333"/><circle cx="566.7" cy="316.6" r="1.1" fill="#333"/><circle cx="540.4" cy="315.2" r="1.1" fill="#333"/><circle cx="535.5" cy="325.6" r="1.1" fill="#333"/><circle cx="558.5" cy="303.6" r="1.1" fill="#333"/><circle cx="536.5" cy="313.4" r="1.1" fill="#333"/><circle cx="566.0" cy="321.4" r="1.1" fill="#333"/><circle cx="541.3" cy="342.4" r="1.1" fill="#333"/><circle cx="538.6" cy="319.1" r="1.1" fill="#333"/><circle cx="539.2" cy="312.9" r="1.1" fill="#333"/><circle cx="553.8" cy="315.1" r="1.1" fill="#333"/><circle cx="544.5" cy="327.0" r="1.1" fill="#333"/><circle cx="556.8" cy="334.1" r="1.1" fill="#333"/><circle cx="543.1" cy="342.9" r="1.1" fill="#333"/><circle cx="565.4" cy="342.4" r="1.1" fill="#333"/><circle cx="554.3" cy="322.1" r="1.1" fill="#333"/><circle cx="537.3" cy="339.1" r="1.1" fill="#333"/><circle cx="542.7" cy="334.4" r="1.1" fill="#333"/><circle cx="538.6" cy="318.3" r="1.1" fill="#333"/><circle cx="520.9" cy="333.7" r="1.1" fill="#333"/><circle cx="533.9" cy="323.7" r="1.1" fill="#333"/><circle cx="554.8" cy="337.9" r="1.1" fill="#333"/><circle cx="565.3" cy="330.9" r="1.1" fill="#333"/><circle cx="531.2" cy="342.0" r="1.1" fill="#333"/><circle cx="522.6" cy="320.3" r="1.1" fill="#333"/><circle cx="564.4" cy="338.5" r="1.1" fill="#333"/><circle cx="548.5" cy="339.5" r="1.1" fill="#333"/><circle cx="528.5" cy="304.7" r="1.1" fill="#333"/><circle cx="534.2" cy="342.1" r="1.1" fill="#333"/><circle cx="521.9" cy="316.7" r="1.1" fill="#333"/><circle cx="544.4" cy="311.6" r="1.1" fill="#333"/><circle cx="561.8" cy="307.5" r="1.1" fill="#333"/><circle cx="524.1" cy="344.9" r="1.1" fill="#333"/><circle cx="520.6" cy="312.3" r="1.1" fill="#333"/><circle cx="539.6" cy="340.0" r="1.1" fill="#333"/><circle cx="582.0" cy="343.0" r="1.15" fill="#777"/><circle cx="588.8" cy="332.1" r="1.15" fill="#777"/><circle cx="586.5" cy="337.3" r="1.15" fill="#777"/><circle cx="584.8" cy="337.8" r="1.15" fill="#777"/><circle cx="586.8" cy="337.2" r="1.15" fill="#777"/><circle cx="591.3" cy="340.7" r="1.15" fill="#777"/><circle cx="585.3" cy="337.5" r="1.15" fill="#777"/><circle cx="584.2" cy="336.4" r="1.15" fill="#777"/><circle cx="585.2" cy="339.2" r="1.15" fill="#777"/><circle cx="584.4" cy="329.6" r="1.15" fill="#777"/><circle cx="586.7" cy="334.1" r="1.15" fill="#777"/><circle cx="586.0" cy="349.5" r="1.15" fill="#777"/><circle cx="592.4" cy="327.2" r="1.15" fill="#777"/><circle cx="575.4" cy="342.7" r="1.15" fill="#777"/><circle cx="581.4" cy="330.9" r="1.15" fill="#777"/><circle cx="575.5" cy="337.4" r="1.15" fill="#777"/><circle cx="581.2" cy="338.0" r="1.15" fill="#777"/><circle cx="584.3" cy="338.2" r="1.15" fill="#777"/><circle cx="583.5" cy="334.4" r="1.15" fill="#777"/><circle cx="590.5" cy="345.2" r="1.15" fill="#777"/><circle cx="580.8" cy="337.4" r="1.15" fill="#777"/><circle cx="598.5" cy="333.1" r="1.15" fill="#777"/><circle cx="579.3" cy="340.6" r="1.15" fill="#777"/><circle cx="591.6" cy="338.0" r="1.15" fill="#777"/><circle cx="593.1" cy="337.6" r="1.15" fill="#777"/><circle cx="587.4" cy="338.0" r="1.15" fill="#777"/><circle cx="588.1" cy="338.2" r="1.15" fill="#777"/><circle cx="595.0" cy="341.4" r="1.15" fill="#777"/><circle cx="596.1" cy="337.4" r="1.15" fill="#777"/><circle cx="581.4" cy="335.3" r="1.15" fill="#777"/><circle cx="583.7" cy="339.6" r="1.15" fill="#777"/><circle cx="583.6" cy="339.4" r="1.15" fill="#777"/><circle cx="588.7" cy="332.8" r="1.15" fill="#777"/><circle cx="577.6" cy="344.1" r="1.15" fill="#777"/><circle cx="582.2" cy="346.7" r="1.15" fill="#777"/><circle cx="584.3" cy="331.8" r="1.15" fill="#777"/><circle cx="579.0" cy="334.4" r="1.15" fill="#777"/><circle cx="602.1" cy="329.5" r="1.15" fill="#777"/><circle cx="571.8" cy="333.9" r="1.15" fill="#777"/><circle cx="586.4" cy="348.3" r="1.15" fill="#777"/><circle cx="592.3" cy="333.7" r="1.15" fill="#777"/><circle cx="595.7" cy="344.0" r="1.15" fill="#777"/><circle cx="582.1" cy="340.8" r="1.15" fill="#777"/><circle cx="588.5" cy="337.4" r="1.15" fill="#777"/><circle cx="583.4" cy="335.5" r="1.15" fill="#777"/><circle cx="588.9" cy="335.7" r="1.15" fill="#777"/><circle cx="591.4" cy="341.2" r="1.15" fill="#777"/><circle cx="576.3" cy="340.0" r="1.15" fill="#777"/><circle cx="585.0" cy="341.7" r="1.15" fill="#777"/><circle cx="583.9" cy="343.5" r="1.15" fill="#777"/><circle cx="591.2" cy="342.3" r="1.15" fill="#777"/><circle cx="589.9" cy="331.8" r="1.15" fill="#777"/><circle cx="585.7" cy="343.1" r="1.15" fill="#777"/><circle cx="591.6" cy="340.8" r="1.15" fill="#777"/><circle cx="586.0" cy="337.8" r="1.15" fill="#777"/><circle cx="577.8" cy="329.9" r="1.15" fill="#777"/><circle cx="585.0" cy="341.9" r="1.15" fill="#777"/><circle cx="584.5" cy="335.6" r="1.15" fill="#777"/><circle cx="585.0" cy="344.2" r="1.15" fill="#777"/><circle cx="582.4" cy="337.7" r="1.15" fill="#777"/><circle cx="588.2" cy="343.0" r="1.15" fill="#777"/><circle cx="588.7" cy="335.8" r="1.15" fill="#777"/><circle cx="583.1" cy="332.9" r="1.15" fill="#777"/><circle cx="584.9" cy="342.6" r="1.15" fill="#777"/><circle cx="587.2" cy="336.1" r="1.15" fill="#777"/><circle cx="579.4" cy="336.5" r="1.15" fill="#777"/><circle cx="590.8" cy="341.0" r="1.15" fill="#777"/><circle cx="588.9" cy="342.0" r="1.15" fill="#777"/><circle cx="593.6" cy="339.1" r="1.15" fill="#777"/><circle cx="590.1" cy="329.4" r="1.15" fill="#777"/><circle cx="590.2" cy="336.6" r="1.15" fill="#777"/><circle cx="587.8" cy="334.0" r="1.15" fill="#777"/><circle cx="584.5" cy="333.0" r="1.15" fill="#777"/><circle cx="585.7" cy="333.5" r="1.15" fill="#777"/><circle cx="592.5" cy="336.7" r="1.15" fill="#777"/><circle cx="587.1" cy="335.3" r="1.15" fill="#777"/><circle cx="585.4" cy="334.9" r="1.15" fill="#777"/><circle cx="581.1" cy="340.4" r="1.15" fill="#777"/><circle cx="582.0" cy="332.9" r="1.15" fill="#777"/><circle cx="583.8" cy="348.3" r="1.15" fill="#777"/><circle cx="592.6" cy="339.3" r="1.15" fill="#777"/><circle cx="588.0" cy="339.6" r="1.15" fill="#777"/><circle cx="588.8" cy="348.6" r="1.15" fill="#777"/><circle cx="595.5" cy="339.0" r="1.15" fill="#777"/><circle cx="575.9" cy="334.0" r="1.15" fill="#777"/><circle cx="587.8" cy="336.1" r="1.15" fill="#777"/><circle cx="588.9" cy="336.9" r="1.15" fill="#777"/><circle cx="589.2" cy="340.3" r="1.15" fill="#777"/><circle cx="583.5" cy="332.4" r="1.15" fill="#777"/><circle cx="584.4" cy="335.1" r="1.15" fill="#777"/><circle cx="577.6" cy="336.6" r="1.1" fill="#333"/><circle cx="588.3" cy="334.8" r="1.1" fill="#333"/><circle cx="580.3" cy="331.9" r="1.1" fill="#333"/><circle cx="583.7" cy="337.2" r="1.1" fill="#333"/><circle cx="583.3" cy="342.5" r="1.1" fill="#333"/><circle cx="583.7" cy="340.4" r="1.1" fill="#333"/><circle cx="580.6" cy="337.8" r="1.1" fill="#333"/><circle cx="578.0" cy="339.4" r="1.1" fill="#333"/><circle cx="589.5" cy="332.5" r="1.1" fill="#333"/><circle cx="578.2" cy="337.3" r="1.1" fill="#333"/><circle cx="582.3" cy="339.7" r="1.1" fill="#333"/><circle cx="569.0" cy="333.9" r="1.1" fill="#333"/><circle cx="584.9" cy="337.2" r="1.1" fill="#333"/><circle cx="576.9" cy="339.1" r="1.1" fill="#333"/><circle cx="582.9" cy="336.3" r="1.1" fill="#333"/><circle cx="581.1" cy="335.8" r="1.1" fill="#333"/><circle cx="585.3" cy="330.7" r="1.1" fill="#333"/><circle cx="565.2" cy="338.7" r="1.1" fill="#333"/><circle cx="570.0" cy="337.0" r="1.1" fill="#333"/><circle cx="582.4" cy="337.6" r="1.1" fill="#333"/><circle cx="576.7" cy="338.4" r="1.1" fill="#333"/><circle cx="580.7" cy="334.2" r="1.1" fill="#333"/><circle cx="580.9" cy="332.8" r="1.1" fill="#333"/><circle cx="590.4" cy="333.6" r="1.1" fill="#333"/><circle cx="582.2" cy="334.8" r="1.1" fill="#333"/><circle cx="583.2" cy="336.4" r="1.1" fill="#333"/><circle cx="580.8" cy="336.4" r="1.1" fill="#333"/><circle cx="583.1" cy="337.1" r="1.1" fill="#333"/><circle cx="587.6" cy="335.8" r="1.1" fill="#333"/><circle cx="581.8" cy="338.3" r="1.1" fill="#333"/><circle cx="581.6" cy="337.9" r="1.1" fill="#333"/><circle cx="585.3" cy="327.3" r="1.1" fill="#333"/><circle cx="582.8" cy="334.5" r="1.1" fill="#333"/><circle cx="574.3" cy="331.1" r="1.1" fill="#333"/><circle cx="575.1" cy="340.3" r="1.1" fill="#333"/><circle cx="588.0" cy="336.4" r="1.1" fill="#333"/><circle cx="581.8" cy="331.8" r="1.1" fill="#333"/><circle cx="592.7" cy="342.3" r="1.1" fill="#333"/><circle cx="583.5" cy="333.0" r="1.1" fill="#333"/><circle cx="581.6" cy="333.6" r="1.1" fill="#333"/><circle cx="576.1" cy="331.8" r="1.1" fill="#333"/><circle cx="577.6" cy="333.5" r="1.1" fill="#333"/><circle cx="584.3" cy="332.3" r="1.1" fill="#333"/><circle cx="584.6" cy="337.0" r="1.1" fill="#333"/><circle cx="587.1" cy="341.6" r="1.1" fill="#333"/><circle cx="591.4" cy="344.0" r="1.1" fill="#888"/><circle cx="602.7" cy="318.0" r="1.1" fill="#888"/><circle cx="610.8" cy="344.7" r="1.1" fill="#888"/><circle cx="595.1" cy="332.3" r="1.1" fill="#888"/><circle cx="595.1" cy="319.9" r="1.1" fill="#888"/><circle cx="591.7" cy="341.7" r="1.1" fill="#888"/><circle cx="594.9" cy="321.9" r="1.1" fill="#888"/><circle cx="593.9" cy="324.3" r="1.1" fill="#888"/><circle cx="610.8" cy="322.1" r="1.1" fill="#888"/><circle cx="594.0" cy="317.7" r="1.1" fill="#888"/><circle cx="605.6" cy="319.0" r="1.1" fill="#888"/><circle cx="608.0" cy="343.3" r="1.1" fill="#888"/><circle cx="596.1" cy="329.6" r="1.1" fill="#888"/><circle cx="607.7" cy="330.1" r="1.1" fill="#888"/><circle cx="597.0" cy="342.5" r="1.1" fill="#888"/><circle cx="612.0" cy="322.9" r="1.1" fill="#888"/><circle cx="523.0" cy="302.0" r="1.1" fill="#333"/><circle cx="558.0" cy="355.0" r="1.1" fill="#333"/><circle cx="572.0" cy="358.0" r="1.1" fill="#333"/></g><g clip-path="url(#cbp)"><rect x="254" y="104" width="60.19999999999999" height="79.19999999999999" fill="none" stroke="#2a2a2a" stroke-width="0.8" stroke-dasharray="2.2 1.8"/><circle cx="341.2" cy="167" r="27.5" fill="none" stroke="#223" stroke-width="0.9" stroke-dasharray="3.6 2.4"/></g><g clip-path="url(#ccp)"><rect x="520.4" y="97.8" width="60.5" height="78.00000000000001" fill="none" stroke="#2a2a2a" stroke-width="0.8" stroke-dasharray="2.2 1.8"/><circle cx="610.7" cy="163" r="26.8" fill="none" stroke="#223" stroke-width="0.9" stroke-dasharray="3.6 2.4"/></g><g clip-path="url(#cdp)"><rect x="256.5" y="298.5" width="60.10000000000002" height="78.89999999999998" fill="none" stroke="#2a2a2a" stroke-width="0.8" stroke-dasharray="2.2 1.8"/><circle cx="342.4" cy="368.5" r="26.8" fill="none" stroke="#223" stroke-width="0.9" stroke-dasharray="3.6 2.4"/></g><g clip-path="url(#cep)"><rect x="523.6" y="298.6" width="59.799999999999955" height="78.59999999999997" fill="none" stroke="#2a2a2a" stroke-width="0.8" stroke-dasharray="2.2 1.8"/><circle cx="614" cy="364" r="27" fill="none" stroke="#223" stroke-width="0.9" stroke-dasharray="3.6 2.4"/></g><polygon points="566.90,122.60 569.16,127.49 574.51,128.13 570.55,131.79 571.60,137.07 566.90,134.44 562.20,137.07 563.25,131.79 559.29,128.13 564.64,127.49" fill="#000" stroke="#000" stroke-width="0.5" stroke-linejoin="miter"/><polygon points="566.90,126.44 568.07,128.98 570.86,129.31 568.80,131.22 569.35,133.97 566.90,132.60 564.45,133.97 565.00,131.22 562.94,129.31 565.73,128.98" fill="#000" stroke="#ddd" stroke-width="0.45" stroke-linejoin="miter"/><polygon points="571.00,130.80 573.26,135.69 578.61,136.33 574.65,139.99 575.70,145.27 571.00,142.64 566.30,145.27 567.35,139.99 563.39,136.33 568.74,135.69" fill="#fff" stroke="#000" stroke-width="0.8" stroke-linejoin="miter"/><polygon points="571.00,133.84 572.40,136.87 575.72,137.27 573.26,139.54 573.92,142.81 571.00,141.18 568.08,142.81 568.74,139.54 566.28,137.27 569.60,136.87" fill="#fff" stroke="#222" stroke-width="0.7" stroke-linejoin="miter"/><polygon points="569.60,325.30 571.86,330.19 577.21,330.83 573.25,334.49 574.30,339.77 569.60,337.14 564.90,339.77 565.95,334.49 561.99,330.83 567.34,330.19" fill="#000" stroke="#000" stroke-width="0.5" stroke-linejoin="miter"/><polygon points="569.60,329.14 570.77,331.68 573.56,332.01 571.50,333.92 572.05,336.67 569.60,335.30 567.15,336.67 567.70,333.92 565.64,332.01 568.43,331.68" fill="#000" stroke="#ddd" stroke-width="0.45" stroke-linejoin="miter"/><polygon points="573.80,333.60 576.06,338.49 581.41,339.13 577.45,342.79 578.50,348.07 573.80,345.44 569.10,348.07 570.15,342.79 566.19,339.13 571.54,338.49" fill="#fff" stroke="#000" stroke-width="0.8" stroke-linejoin="miter"/><polygon points="573.80,336.64 575.20,339.67 578.52,340.07 576.06,342.34 576.72,345.61 573.80,343.98 570.88,345.61 571.54,342.34 569.08,340.07 572.40,339.67" fill="#fff" stroke="#222" stroke-width="0.7" stroke-linejoin="miter"/><rect x="246.4" y="63.4" width="165.4" height="131.4" fill="none" stroke="#111" stroke-width="1.1"/><line x1="296.5" y1="57.1" x2="296.5" y2="63.4" stroke="#333" stroke-width="0.7"/><line x1="296.5" y1="194.8" x2="296.5" y2="201.10000000000002" stroke="#333" stroke-width="0.7"/><line x1="351.4" y1="57.1" x2="351.4" y2="63.4" stroke="#333" stroke-width="0.7"/><line x1="351.4" y1="194.8" x2="351.4" y2="201.10000000000002" stroke="#333" stroke-width="0.7"/><line x1="405.7" y1="57.1" x2="405.7" y2="63.4" stroke="#333" stroke-width="0.7"/><line x1="405.7" y1="194.8" x2="405.7" y2="201.10000000000002" stroke="#333" stroke-width="0.7"/><line x1="240.1" y1="63.4" x2="246.4" y2="63.4" stroke="#333" stroke-width="0.7"/><line x1="411.8" y1="63.4" x2="418.1" y2="63.4" stroke="#333" stroke-width="0.7"/><line x1="240.1" y1="90.7" x2="246.4" y2="90.7" stroke="#333" stroke-width="0.7"/><line x1="411.8" y1="90.7" x2="418.1" y2="90.7" stroke="#333" stroke-width="0.7"/><line x1="240.1" y1="118" x2="246.4" y2="118" stroke="#333" stroke-width="0.7"/><line x1="411.8" y1="118" x2="418.1" y2="118" stroke="#333" stroke-width="0.7"/><line x1="240.1" y1="145.3" x2="246.4" y2="145.3" stroke="#333" stroke-width="0.7"/><line x1="411.8" y1="145.3" x2="418.1" y2="145.3" stroke="#333" stroke-width="0.7"/><line x1="240.1" y1="172.6" x2="246.4" y2="172.6" stroke="#333" stroke-width="0.7"/><line x1="411.8" y1="172.6" x2="418.1" y2="172.6" stroke="#333" stroke-width="0.7"/><text x="296.80" y="50.40" font-size="17.2" text-anchor="middle" fill="#111">10</text><text x="351.70" y="50.40" font-size="17.2" text-anchor="middle" fill="#111">20</text><text x="406.00" y="50.40" font-size="17.2" text-anchor="middle" fill="#111">30</text><text x="443.72" y="69.60" font-size="17.2" text-anchor="end" fill="#111">0</text><text x="443.72" y="96.90" font-size="17.2" text-anchor="end" fill="#111">5</text><text x="443.72" y="124.20" font-size="17.2" text-anchor="end" fill="#111">10</text><text x="443.72" y="151.50" font-size="17.2" text-anchor="end" fill="#111">15</text><text x="443.72" y="178.80" font-size="17.2" text-anchor="end" fill="#111">20</text><rect x="508.5" y="60.5" width="165.70000000000005" height="131.6" fill="none" stroke="#111" stroke-width="1.1"/><line x1="558.7" y1="54.2" x2="558.7" y2="60.5" stroke="#333" stroke-width="0.7"/><line x1="558.7" y1="192.1" x2="558.7" y2="198.4" stroke="#333" stroke-width="0.7"/><line x1="613.5" y1="54.2" x2="613.5" y2="60.5" stroke="#333" stroke-width="0.7"/><line x1="613.5" y1="192.1" x2="613.5" y2="198.4" stroke="#333" stroke-width="0.7"/><line x1="668.2" y1="54.2" x2="668.2" y2="60.5" stroke="#333" stroke-width="0.7"/><line x1="668.2" y1="192.1" x2="668.2" y2="198.4" stroke="#333" stroke-width="0.7"/><line x1="502.2" y1="60.5" x2="508.5" y2="60.5" stroke="#333" stroke-width="0.7"/><line x1="674.2" y1="60.5" x2="680.5" y2="60.5" stroke="#333" stroke-width="0.7"/><line x1="502.2" y1="88" x2="508.5" y2="88" stroke="#333" stroke-width="0.7"/><line x1="674.2" y1="88" x2="680.5" y2="88" stroke="#333" stroke-width="0.7"/><line x1="502.2" y1="115.5" x2="508.5" y2="115.5" stroke="#333" stroke-width="0.7"/><line x1="674.2" y1="115.5" x2="680.5" y2="115.5" stroke="#333" stroke-width="0.7"/><line x1="502.2" y1="143" x2="508.5" y2="143" stroke="#333" stroke-width="0.7"/><line x1="674.2" y1="143" x2="680.5" y2="143" stroke="#333" stroke-width="0.7"/><line x1="502.2" y1="170.5" x2="508.5" y2="170.5" stroke="#333" stroke-width="0.7"/><line x1="674.2" y1="170.5" x2="680.5" y2="170.5" stroke="#333" stroke-width="0.7"/><text x="559.00" y="47.30" font-size="17.2" text-anchor="middle" fill="#111">10</text><text x="613.80" y="47.30" font-size="17.2" text-anchor="middle" fill="#111">20</text><text x="668.50" y="47.30" font-size="17.2" text-anchor="middle" fill="#111">30</text><text x="486.12" y="66.70" font-size="17.2" text-anchor="end" fill="#111">0</text><text x="486.12" y="94.20" font-size="17.2" text-anchor="end" fill="#111">5</text><text x="486.12" y="121.70" font-size="17.2" text-anchor="end" fill="#111">10</text><text x="486.12" y="149.20" font-size="17.2" text-anchor="end" fill="#111">15</text><text x="486.12" y="176.70" font-size="17.2" text-anchor="end" fill="#111">20</text><rect x="249.2" y="265.4" width="164.0" height="130.8" fill="none" stroke="#111" stroke-width="1.1"/><line x1="298.6" y1="259.09999999999997" x2="298.6" y2="265.4" stroke="#333" stroke-width="0.7"/><line x1="298.6" y1="396.2" x2="298.6" y2="402.5" stroke="#333" stroke-width="0.7"/><line x1="353.1" y1="259.09999999999997" x2="353.1" y2="265.4" stroke="#333" stroke-width="0.7"/><line x1="353.1" y1="396.2" x2="353.1" y2="402.5" stroke="#333" stroke-width="0.7"/><line x1="407.3" y1="259.09999999999997" x2="407.3" y2="265.4" stroke="#333" stroke-width="0.7"/><line x1="407.3" y1="396.2" x2="407.3" y2="402.5" stroke="#333" stroke-width="0.7"/><line x1="242.89999999999998" y1="265.4" x2="249.2" y2="265.4" stroke="#333" stroke-width="0.7"/><line x1="413.2" y1="265.4" x2="419.5" y2="265.4" stroke="#333" stroke-width="0.7"/><line x1="242.89999999999998" y1="292.6" x2="249.2" y2="292.6" stroke="#333" stroke-width="0.7"/><line x1="413.2" y1="292.6" x2="419.5" y2="292.6" stroke="#333" stroke-width="0.7"/><line x1="242.89999999999998" y1="319.8" x2="249.2" y2="319.8" stroke="#333" stroke-width="0.7"/><line x1="413.2" y1="319.8" x2="419.5" y2="319.8" stroke="#333" stroke-width="0.7"/><line x1="242.89999999999998" y1="347" x2="249.2" y2="347" stroke="#333" stroke-width="0.7"/><line x1="413.2" y1="347" x2="419.5" y2="347" stroke="#333" stroke-width="0.7"/><line x1="242.89999999999998" y1="374.2" x2="249.2" y2="374.2" stroke="#333" stroke-width="0.7"/><line x1="413.2" y1="374.2" x2="419.5" y2="374.2" stroke="#333" stroke-width="0.7"/><text x="298.90" y="252.50" font-size="17.2" text-anchor="middle" fill="#111">10</text><text x="353.40" y="252.50" font-size="17.2" text-anchor="middle" fill="#111">20</text><text x="407.60" y="252.50" font-size="17.2" text-anchor="middle" fill="#111">30</text><text x="444.02" y="271.60" font-size="17.2" text-anchor="end" fill="#111">0</text><text x="444.02" y="298.80" font-size="17.2" text-anchor="end" fill="#111">5</text><text x="444.02" y="326.00" font-size="17.2" text-anchor="end" fill="#111">10</text><text x="444.02" y="353.20" font-size="17.2" text-anchor="end" fill="#111">15</text><text x="444.02" y="380.40" font-size="17.2" text-anchor="end" fill="#111">20</text><rect x="513.2" y="264.3" width="162.29999999999995" height="129.89999999999998" fill="none" stroke="#111" stroke-width="1.1"/><line x1="562.4" y1="258.0" x2="562.4" y2="264.3" stroke="#333" stroke-width="0.7"/><line x1="562.4" y1="394.2" x2="562.4" y2="400.5" stroke="#333" stroke-width="0.7"/><line x1="615.9" y1="258.0" x2="615.9" y2="264.3" stroke="#333" stroke-width="0.7"/><line x1="615.9" y1="394.2" x2="615.9" y2="400.5" stroke="#333" stroke-width="0.7"/><line x1="669.7" y1="258.0" x2="669.7" y2="264.3" stroke="#333" stroke-width="0.7"/><line x1="669.7" y1="394.2" x2="669.7" y2="400.5" stroke="#333" stroke-width="0.7"/><line x1="506.90000000000003" y1="264.3" x2="513.2" y2="264.3" stroke="#333" stroke-width="0.7"/><line x1="675.5" y1="264.3" x2="681.8" y2="264.3" stroke="#333" stroke-width="0.7"/><line x1="506.90000000000003" y1="291.5" x2="513.2" y2="291.5" stroke="#333" stroke-width="0.7"/><line x1="675.5" y1="291.5" x2="681.8" y2="291.5" stroke="#333" stroke-width="0.7"/><line x1="506.90000000000003" y1="318.6" x2="513.2" y2="318.6" stroke="#333" stroke-width="0.7"/><line x1="675.5" y1="318.6" x2="681.8" y2="318.6" stroke="#333" stroke-width="0.7"/><line x1="506.90000000000003" y1="345.8" x2="513.2" y2="345.8" stroke="#333" stroke-width="0.7"/><line x1="675.5" y1="345.8" x2="681.8" y2="345.8" stroke="#333" stroke-width="0.7"/><line x1="506.90000000000003" y1="372.9" x2="513.2" y2="372.9" stroke="#333" stroke-width="0.7"/><line x1="675.5" y1="372.9" x2="681.8" y2="372.9" stroke="#333" stroke-width="0.7"/><text x="562.70" y="252.50" font-size="17.2" text-anchor="middle" fill="#111">30</text><text x="616.20" y="252.50" font-size="17.2" text-anchor="middle" fill="#111">20</text><text x="670.00" y="252.50" font-size="17.2" text-anchor="middle" fill="#111">10</text><text x="498.92" y="270.50" font-size="17.2" text-anchor="end" fill="#111">0</text><text x="498.92" y="297.70" font-size="17.2" text-anchor="end" fill="#111">5</text><text x="498.92" y="324.80" font-size="17.2" text-anchor="end" fill="#111">10</text><text x="498.92" y="352.00" font-size="17.2" text-anchor="end" fill="#111">15</text><text x="498.92" y="379.10" font-size="17.2" text-anchor="end" fill="#111">20</text><text x="241.33" y="31.30" font-size="15.63" textLength="11.12" lengthAdjust="spacingAndGlyphs" fill="#111">C</text><text x="409.31" y="31.20" font-size="15.07" textLength="14.91" lengthAdjust="spacingAndGlyphs" fill="#111">C’</text><text x="273.60" y="26.60" font-size="14.38" textLength="92.25" lengthAdjust="spacingAndGlyphs" fill="#111">Distance (km)</text><text x="498.94" y="30.70" font-size="15.14" textLength="12.21" lengthAdjust="spacingAndGlyphs" fill="#111">B</text><text x="667.29" y="30.40" font-size="14.86" textLength="14.58" lengthAdjust="spacingAndGlyphs" fill="#111">B’</text><text x="549.89" y="27.00" font-size="14.66" textLength="93.07" lengthAdjust="spacingAndGlyphs" fill="#111">Distance (km)</text><text x="0" y="0" font-size="13.8" text-anchor="middle" textLength="74.18" lengthAdjust="spacingAndGlyphs" fill="#111" transform="translate(463.6,113.2) rotate(-90)">Depth (km)</text><text x="0" y="0" font-size="13.8" text-anchor="middle" textLength="74.59" lengthAdjust="spacingAndGlyphs" fill="#111" transform="translate(465.9,313.1) rotate(-90)">Depth (km)</text><text x="266.1" y="217.9" font-size="11.2" text-anchor="start" textLength="50.8" lengthAdjust="spacingAndGlyphs" fill="#111">White star</text><circle cx="324.2" cy="212.70000000000002" r="0.65" fill="#111"/><circle cx="324.2" cy="217.20000000000002" r="0.65" fill="#111"/><text x="330.9" y="217.9" font-size="11.2" text-anchor="start" textLength="80.8" lengthAdjust="spacingAndGlyphs" fill="#111">2022/6/19 M5.7</text><path d="M414.6,215.3 L417.20000000000005,218.3" stroke="#111" stroke-width="1.1" stroke-linecap="round"/><text x="423.9" y="217.9" font-size="11.2" text-anchor="start" textLength="49.9" lengthAdjust="spacingAndGlyphs" fill="#111">Black star</text><circle cx="480.8" cy="212.70000000000002" r="0.65" fill="#111"/><circle cx="480.8" cy="217.20000000000002" r="0.65" fill="#111"/><text x="486.9" y="217.9" font-size="11.2" text-anchor="start" textLength="74.4" lengthAdjust="spacingAndGlyphs" fill="#111">2023/5/5 M6.5</text><text x="266.1" y="232.1" font-size="11.2" text-anchor="start" textLength="85.6" lengthAdjust="spacingAndGlyphs" fill="#111">White (Gray) dot</text><circle cx="357.3" cy="226.9" r="0.65" fill="#111"/><circle cx="357.3" cy="231.4" r="0.65" fill="#111"/><text x="363.9" y="232.1" font-size="11.2" text-anchor="start" textLength="87.5" lengthAdjust="spacingAndGlyphs" fill="#111">2020/01/01-M6.5</text><path d="M453.6,229.5 L456.20000000000005,232.5" stroke="#111" stroke-width="1.1" stroke-linecap="round"/><text x="464.8" y="232.1" font-size="11.2" text-anchor="start" textLength="79.0" lengthAdjust="spacingAndGlyphs" fill="#111">M=&gt;2 Black dot</text><circle cx="549.7" cy="226.9" r="0.65" fill="#111"/><circle cx="549.7" cy="231.4" r="0.65" fill="#111"/><text x="557.3" y="232.1" font-size="11.2" text-anchor="start" textLength="127.5" lengthAdjust="spacingAndGlyphs" fill="#111">2023/05/05-05/08, M=&gt;2</text></svg></body></html>
